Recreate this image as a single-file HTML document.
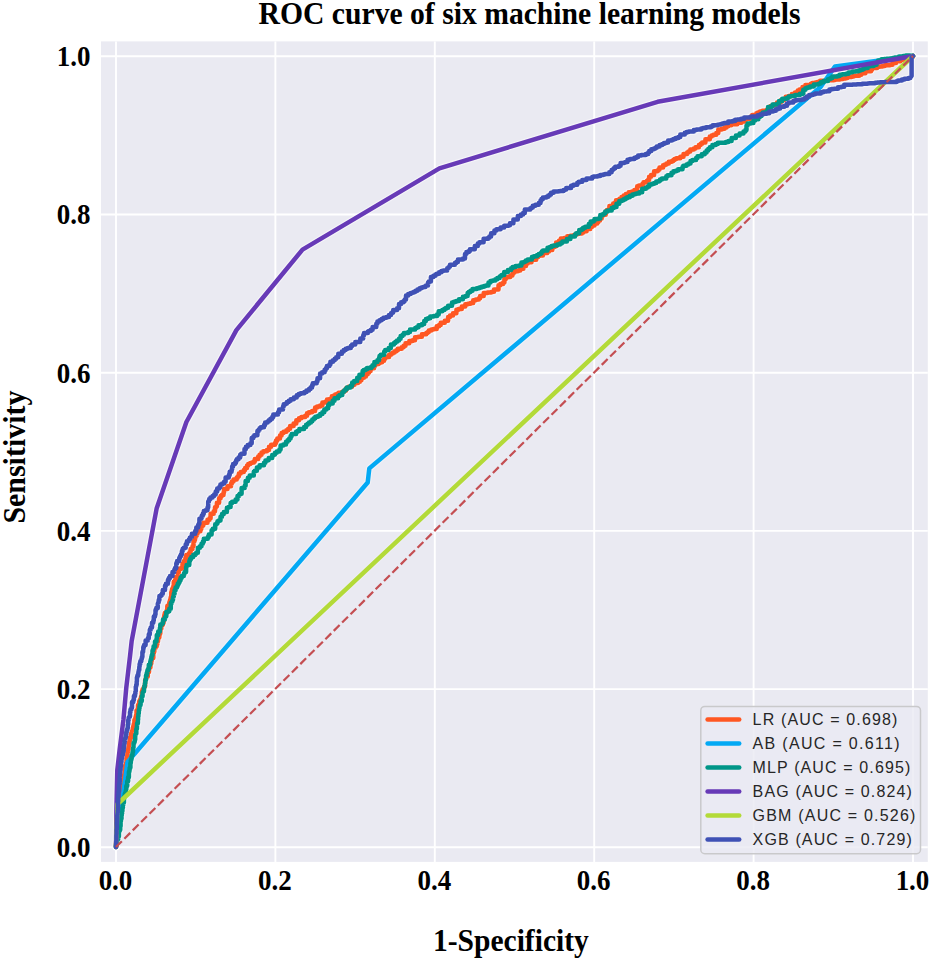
<!DOCTYPE html>
<html><head><meta charset="utf-8"><style>
html,body{margin:0;padding:0;background:#fff;}
body{width:931px;height:960px;overflow:hidden;}
svg{display:block;}
.serif{font-family:"Liberation Serif",serif;font-weight:bold;fill:#000;}
.sans{font-family:"Liberation Sans",sans-serif;fill:#262626;}
</style></head><body>
<svg width="931" height="960" viewBox="0 0 931 960">
<rect x="101" y="41.4" width="826.8" height="820.5" fill="#EAEAF2"/>
<g stroke="#fff" stroke-width="1.9"><line x1="116.0" y1="41.4" x2="116.0" y2="861.9"/><line x1="275.4" y1="41.4" x2="275.4" y2="861.9"/><line x1="434.8" y1="41.4" x2="434.8" y2="861.9"/><line x1="594.2" y1="41.4" x2="594.2" y2="861.9"/><line x1="753.6" y1="41.4" x2="753.6" y2="861.9"/><line x1="913.0" y1="41.4" x2="913.0" y2="861.9"/><line x1="101" y1="847.3" x2="927.8" y2="847.3"/><line x1="101" y1="689.1" x2="927.8" y2="689.1"/><line x1="101" y1="530.9" x2="927.8" y2="530.9"/><line x1="101" y1="372.7" x2="927.8" y2="372.7"/><line x1="101" y1="214.5" x2="927.8" y2="214.5"/><line x1="101" y1="56.3" x2="927.8" y2="56.3"/></g>
<g fill="none" stroke-width="4.5" stroke-linejoin="round" stroke-linecap="round">
<polyline points="116.0,847.0 116.1,847.0 116.1,845.7 116.1,842.4 116.5,842.4 116.8,842.4 116.8,839.4 116.9,839.4 116.9,837.7 116.9,835.5 117.2,835.5 117.4,835.5 117.4,833.3 117.4,830.5 117.6,830.5 117.6,827.4 118.0,827.4 118.1,827.4 118.1,826.2 118.2,826.2 118.2,825.2 118.2,822.0 118.5,822.0 119.0,822.0 119.0,817.8 119.3,817.8 119.3,815.4 119.5,815.4 119.5,813.5 119.5,811.0 119.8,811.0 119.8,809.8 120.0,809.8 120.0,808.0 120.2,808.0 120.5,808.0 120.5,805.4 120.5,802.6 120.8,802.6 120.8,800.7 121.1,800.7 121.3,800.7 121.3,798.8 121.5,798.8 121.5,797.0 121.5,794.7 121.8,794.7 121.8,792.5 122.1,792.5 122.4,792.5 122.4,789.8 122.6,789.8 122.6,788.1 122.6,785.6 122.9,785.6 123.2,785.6 123.2,783.5 123.4,783.5 123.4,782.1 123.4,780.1 123.6,780.1 123.6,777.5 124.0,777.5 124.0,775.0 124.3,775.0 124.6,775.0 124.6,772.9 124.6,770.7 124.9,770.7 124.9,768.3 125.3,768.3 125.3,765.0 125.8,765.0 126.2,765.0 126.2,762.6 126.5,762.6 126.5,760.4 126.5,758.1 126.8,758.1 126.8,757.0 127.0,757.0 127.4,757.0 127.4,754.5 127.4,752.6 127.8,752.6 127.8,749.9 128.3,749.9 128.5,749.9 128.5,748.6 128.5,746.7 128.8,746.7 128.8,743.8 129.3,743.8 129.3,741.8 129.7,741.8 129.7,740.0 130.0,740.0 130.0,737.4 130.6,737.4 131.1,737.4 131.1,735.4 131.1,733.4 131.5,733.4 131.9,733.4 131.9,731.6 132.2,731.6 132.2,730.8 132.8,730.8 132.8,728.0 133.3,728.0 133.3,726.0 133.8,726.0 133.8,723.9 134.4,723.9 134.4,721.8 134.4,720.0 134.8,720.0 135.4,720.0 135.4,717.6 136.0,717.6 136.0,715.3 136.5,715.3 136.5,713.0 136.5,710.6 137.1,710.6 137.4,710.6 137.4,709.4 138.0,709.4 138.0,707.0 138.0,705.0 138.5,705.0 139.2,705.0 139.2,702.7 139.2,701.3 139.6,701.3 140.1,701.3 140.1,699.6 141.0,699.6 141.0,696.7 141.5,696.7 141.5,695.0 141.8,695.0 141.8,693.9 141.8,691.7 142.5,691.7 142.5,689.4 143.1,689.4 143.6,689.4 143.6,687.8 144.0,687.8 144.0,686.4 145.1,686.4 145.1,682.6 145.1,680.0 145.8,680.0 145.8,678.8 146.2,678.8 146.2,676.4 147.0,676.4 147.8,676.4 147.8,674.0 147.8,671.9 148.5,671.9 149.0,671.9 149.0,670.6 149.0,667.5 150.0,667.5 150.4,667.5 150.4,665.9 150.4,663.6 151.0,663.6 151.3,663.6 151.3,662.6 151.3,661.1 151.7,661.1 151.7,657.9 152.5,657.9 153.3,657.9 153.3,655.0 153.3,653.0 153.9,653.0 153.9,651.8 154.3,651.8 154.3,647.6 155.6,647.6 156.0,647.6 156.0,646.3 156.7,646.3 156.7,643.9 157.4,643.9 157.4,641.3 158.0,641.3 158.0,639.2 158.0,637.5 158.5,637.5 159.3,637.5 159.3,635.1 159.8,635.1 159.8,633.4 160.3,633.4 160.3,632.0 160.3,628.8 161.3,628.8 161.3,625.5 162.3,625.5 162.3,624.5 162.6,624.5 163.0,624.5 163.0,623.1 163.5,623.1 163.5,621.3 163.9,621.3 163.9,619.5 163.9,617.3 164.3,617.3 164.3,615.0 164.8,615.0 164.8,613.1 165.6,613.1 166.8,613.1 166.8,610.1 167.3,610.1 167.3,608.8 167.3,605.9 168.2,605.9 168.6,605.9 168.6,604.7 169.3,604.7 169.3,602.2 170.0,602.2 170.0,600.0 170.7,600.0 170.7,597.2 171.3,597.2 171.3,595.0 171.3,592.0 172.0,592.0 172.0,589.2 172.7,589.2 172.7,588.1 173.0,588.1 173.5,588.1 173.5,586.0 173.5,585.0 173.8,585.0 173.8,581.8 175.1,581.8 175.1,579.7 175.9,579.7 175.9,577.1 177.0,577.1 177.6,577.1 177.6,575.4 178.1,575.4 178.1,574.2 178.1,572.5 178.8,572.5 178.8,569.1 180.5,569.1 181.0,569.1 181.0,568.0 182.5,568.0 182.5,565.1 182.5,563.8 183.1,563.8 183.8,563.8 183.8,562.5 183.8,561.2 184.5,561.2 185.4,561.2 185.4,559.8 185.4,558.1 186.3,558.1 186.3,555.0 188.1,555.0 188.8,555.0 188.8,553.8 189.6,553.8 189.6,552.2 190.6,552.2 190.6,550.1 190.6,548.9 191.2,548.9 192.5,548.9 192.5,546.3 193.5,546.3 193.5,543.8 193.5,541.7 194.3,541.7 194.3,540.0 195.0,540.0 195.0,536.5 196.4,536.5 196.4,535.3 196.9,535.3 196.9,533.8 197.5,533.8 197.5,531.3 199.0,531.3 200.4,531.3 200.4,528.9 201.3,528.9 201.3,527.5 201.3,526.7 202.1,526.7 202.1,525.5 203.3,525.5 203.3,522.8 206.0,522.8 207.5,522.8 207.5,521.3 207.5,519.8 208.5,519.8 209.6,519.8 209.6,518.2 210.6,518.2 210.6,516.6 210.6,513.8 212.5,513.8 213.7,513.8 213.7,511.3 215.0,511.3 215.0,508.8 215.0,507.3 215.8,507.3 216.3,507.3 216.3,506.3 216.9,506.3 216.9,505.3 216.9,502.8 218.2,502.8 219.1,502.8 219.1,501.2 219.1,498.3 220.6,498.3 220.6,496.0 221.8,496.0 221.8,495.1 222.2,495.1 223.5,495.1 223.5,492.5 224.0,492.5 224.0,491.4 224.0,489.1 225.2,489.1 227.5,489.1 227.5,487.2 227.5,486.3 228.7,486.3 231.0,486.3 231.0,484.5 231.0,483.4 231.9,483.4 231.9,481.4 233.5,481.4 233.5,479.6 235.0,479.6 236.7,479.6 236.7,477.6 238.0,477.6 238.0,476.3 238.9,476.3 238.9,475.4 238.9,473.6 240.7,473.6 240.7,471.9 242.4,471.9 243.8,471.9 243.8,470.0 245.1,470.0 245.1,468.1 247.0,468.1 247.0,465.6 248.2,465.6 248.2,463.9 250.3,463.9 250.3,463.0 251.9,463.0 251.9,462.4 253.9,462.4 253.9,461.6 254.8,461.6 254.8,460.5 254.8,459.1 255.9,459.1 258.2,459.1 258.2,456.4 259.6,456.4 259.6,454.7 261.5,454.7 261.5,453.6 261.5,452.5 263.3,452.5 263.3,451.3 265.4,451.3 266.9,451.3 266.9,450.1 269.0,450.1 269.0,448.4 269.0,446.7 271.1,446.7 271.1,444.8 273.1,444.8 275.0,444.8 275.0,442.9 276.0,442.9 276.0,442.0 276.0,440.5 277.3,440.5 277.3,438.4 279.2,438.4 280.0,438.4 280.0,437.5 280.0,435.5 281.6,435.5 281.6,433.1 283.5,433.1 283.5,431.7 284.6,431.7 286.4,431.7 286.4,430.2 288.2,430.2 288.2,428.7 290.1,428.7 290.1,427.1 290.1,426.0 291.5,426.0 293.6,426.0 293.6,424.2 293.6,423.6 294.3,423.6 296.3,423.6 296.3,422.0 296.3,420.3 298.3,420.3 299.0,420.3 299.0,419.8 299.0,418.3 301.4,418.3 301.4,416.9 303.4,416.9 305.2,416.9 305.2,415.7 307.0,415.7 307.0,414.5 307.0,413.3 308.9,413.3 308.9,412.2 310.4,412.2 312.1,412.2 312.1,411.1 315.1,411.1 315.1,409.0 315.1,407.6 317.1,407.6 317.1,406.6 318.4,406.6 320.1,406.6 320.1,405.4 322.4,405.4 322.4,403.8 322.4,402.6 324.3,402.6 325.4,402.6 325.4,401.8 327.0,401.8 327.0,400.8 327.0,399.6 328.8,399.6 329.6,399.6 329.6,399.1 331.8,399.1 331.8,397.6 331.8,396.2 333.9,396.2 333.9,395.5 335.2,395.5 335.2,394.5 337.3,394.5 337.3,393.8 338.6,393.8 338.6,392.7 340.8,392.7 342.2,392.7 342.2,391.8 344.2,391.8 344.2,390.4 346.1,390.4 346.1,389.2 346.1,388.2 347.6,388.2 347.6,387.8 348.4,387.8 348.4,386.8 350.5,386.8 352.1,386.8 352.1,385.9 352.1,384.7 354.5,384.7 354.5,383.0 356.5,383.0 358.0,383.0 358.0,381.8 359.9,381.8 359.9,380.3 361.4,380.3 361.4,379.0 361.4,377.8 362.5,377.8 363.9,377.8 363.9,376.4 365.9,376.4 365.9,374.3 367.7,374.3 367.7,372.4 369.2,372.4 369.2,370.9 370.6,370.9 370.6,369.7 370.6,368.2 372.3,368.2 374.0,368.2 374.0,366.7 374.0,365.7 375.3,365.7 375.3,364.0 377.2,364.0 378.7,364.0 378.7,363.0 379.9,363.0 379.9,362.2 382.1,362.2 382.1,360.7 384.1,360.7 384.1,359.4 384.1,358.5 385.4,358.5 385.4,357.1 387.5,357.1 389.1,357.1 389.1,356.1 389.1,354.8 391.0,354.8 391.0,353.6 392.8,353.6 392.8,352.4 394.6,352.4 394.6,351.2 396.4,351.2 396.4,350.3 397.8,350.3 397.8,348.7 399.8,348.7 401.7,348.7 401.7,347.2 403.6,347.2 403.6,345.7 405.5,345.7 405.5,344.5 405.5,343.2 407.7,343.2 409.3,343.2 409.3,342.2 409.3,340.9 411.6,340.9 412.6,340.9 412.6,340.2 415.0,340.2 415.0,338.8 415.0,337.3 418.1,337.3 418.1,336.7 419.2,336.7 421.9,336.7 421.9,335.4 421.9,334.2 424.2,334.2 426.3,334.2 426.3,333.1 427.6,333.1 427.6,332.5 427.6,331.9 428.8,331.9 428.8,330.6 431.3,330.6 431.3,329.6 433.4,329.6 433.4,328.9 434.5,328.9 436.7,328.9 436.7,327.6 436.7,326.2 439.1,326.2 439.1,324.9 440.7,324.9 440.7,322.8 443.3,322.8 444.8,322.8 444.8,321.6 444.8,320.7 445.8,320.7 448.1,320.7 448.1,318.7 448.1,317.0 450.0,317.0 450.0,315.5 451.8,315.5 453.0,315.5 453.0,314.5 453.0,313.2 454.4,313.2 456.4,313.2 456.4,311.5 456.4,309.7 458.5,309.7 458.5,308.9 459.5,308.9 461.8,308.9 461.8,307.4 461.8,306.4 463.2,306.4 465.3,306.4 465.3,305.1 465.3,304.3 466.4,304.3 467.9,304.3 467.9,303.8 470.5,303.8 470.5,302.9 473.2,302.9 473.2,302.0 473.2,300.3 475.8,300.3 475.8,299.4 477.2,299.4 478.9,299.4 478.9,298.3 480.1,298.3 480.1,297.5 480.1,296.1 481.8,296.1 483.7,296.1 483.7,294.6 483.7,292.9 485.9,292.9 487.5,292.9 487.5,292.6 491.2,292.6 491.2,292.0 492.7,292.0 492.7,291.7 494.0,291.7 494.0,290.7 494.0,289.5 495.5,289.5 498.5,289.5 498.5,287.1 498.5,285.3 500.3,285.3 500.3,284.1 501.5,284.1 503.1,284.1 503.1,282.5 504.4,282.5 504.4,280.8 504.4,279.0 505.8,279.0 505.8,278.0 506.5,278.0 506.5,277.0 507.9,277.0 510.3,277.0 510.3,275.5 512.4,275.5 512.4,274.0 512.4,273.4 513.4,273.4 513.4,272.6 514.5,272.6 514.5,271.3 516.6,271.3 518.0,271.3 518.0,270.4 520.3,270.4 520.3,268.8 523.4,268.8 523.4,266.6 524.4,266.6 524.4,265.9 526.0,265.9 526.0,264.8 526.0,263.6 527.7,263.6 527.7,262.3 529.7,262.3 531.5,262.3 531.5,261.0 531.5,259.8 533.5,259.8 536.2,259.8 536.2,258.1 536.2,256.9 538.2,256.9 538.2,256.1 539.4,256.1 539.4,255.6 540.3,255.6 542.9,255.6 542.9,254.0 542.9,253.1 545.0,253.1 547.3,253.1 547.3,252.2 547.3,251.5 549.0,251.5 549.0,250.0 550.6,250.0 552.3,250.0 552.3,248.5 552.3,247.0 554.0,247.0 554.6,247.0 554.6,246.3 556.1,246.3 556.1,244.4 556.1,242.6 557.6,242.6 559.0,242.6 559.0,240.8 560.8,240.8 560.8,240.0 560.8,238.5 564.1,238.5 564.1,238.1 565.1,238.1 567.3,238.1 567.3,237.1 567.3,236.2 569.2,236.2 570.4,236.2 570.4,235.7 573.9,235.7 573.9,235.0 575.2,235.0 575.2,234.7 575.2,234.5 576.4,234.5 576.4,234.1 578.6,234.1 578.6,233.4 581.9,233.4 581.9,232.4 583.4,232.4 583.4,231.3 585.2,231.3 586.6,231.3 586.6,230.4 586.6,229.1 588.7,229.1 590.3,229.1 590.3,228.1 590.3,227.1 591.9,227.1 591.9,225.4 594.5,225.4 594.5,223.6 596.0,223.6 597.3,223.6 597.3,221.9 598.4,221.9 598.4,220.5 600.0,220.5 600.0,218.6 601.7,218.6 601.7,216.9 601.7,216.0 602.6,216.0 602.6,214.7 603.9,214.7 605.7,214.7 605.7,212.9 605.7,211.5 606.9,211.5 606.9,209.9 608.2,209.9 609.4,209.9 609.4,208.4 609.4,206.0 611.5,206.0 613.2,206.0 613.2,204.8 613.2,203.5 615.0,203.5 615.0,202.8 616.0,202.8 616.0,200.3 619.5,200.3 619.5,198.8 621.5,198.8 621.5,197.1 623.7,197.1 623.7,195.5 625.9,195.5 625.9,194.0 627.9,194.0 627.9,193.4 628.7,193.4 628.7,192.2 630.7,192.2 632.0,192.2 632.0,191.4 634.4,191.4 634.4,189.9 637.2,189.9 637.2,187.7 637.2,186.2 639.0,186.2 639.0,185.4 640.1,185.4 642.5,185.4 642.5,183.8 643.5,183.8 643.5,183.1 643.5,182.2 644.9,182.2 647.0,182.2 647.0,180.8 647.9,180.8 647.9,179.9 649.1,179.9 649.1,178.7 649.1,176.7 651.0,176.7 651.0,175.0 652.7,175.0 654.1,175.0 654.1,173.9 654.1,171.2 657.5,171.2 657.5,170.4 658.5,170.4 658.5,169.4 659.5,169.4 659.5,167.4 661.6,167.4 663.1,167.4 663.1,165.9 663.1,165.2 664.9,165.2 664.9,164.5 666.5,164.5 666.5,163.6 668.8,163.6 668.8,161.7 671.9,161.7 671.9,160.9 673.3,160.9 673.3,160.1 674.5,160.1 674.5,159.1 676.2,159.1 676.2,158.2 677.8,158.2 680.3,158.2 680.3,156.7 683.5,156.7 683.5,155.0 683.5,153.9 685.7,153.9 687.1,153.9 687.1,153.2 687.1,152.5 688.4,152.5 688.4,151.5 690.3,151.5 690.3,149.6 693.8,149.6 693.8,148.4 695.5,148.4 695.5,147.3 697.3,147.3 698.9,147.3 698.9,146.1 698.9,145.0 700.6,145.0 700.6,143.8 702.1,143.8 702.1,142.6 703.5,142.6 705.4,142.6 705.4,141.0 705.4,139.3 707.5,139.3 709.8,139.3 709.8,137.8 709.8,136.5 711.6,136.5 711.6,135.5 713.2,135.5 713.2,134.7 714.4,134.7 716.3,134.7 716.3,133.0 718.3,133.0 718.3,131.2 718.3,129.6 720.1,129.6 721.8,129.6 721.8,128.7 724.5,128.7 724.5,127.4 726.5,127.4 726.5,126.3 728.2,126.3 728.2,125.5 728.2,125.2 729.4,125.2 731.2,125.2 731.2,124.8 731.2,124.2 733.2,124.2 737.3,124.2 737.3,123.2 737.3,122.7 739.1,122.7 741.5,122.7 741.5,122.1 741.5,121.5 743.7,121.5 745.4,121.5 745.4,121.0 745.4,118.8 748.1,118.8 750.3,118.8 750.3,117.0 751.2,117.0 751.2,116.3 752.2,116.3 752.2,115.5 752.2,114.9 753.8,114.9 756.4,114.9 756.4,113.9 756.4,113.3 757.9,113.3 757.9,112.5 760.0,112.5 760.0,111.6 762.4,111.6 762.4,110.7 764.7,110.7 766.5,110.7 766.5,110.0 768.7,110.0 768.7,108.7 768.7,107.6 770.5,107.6 770.5,106.1 772.9,106.1 772.9,105.4 774.0,105.4 774.0,104.5 775.5,104.5 777.0,104.5 777.0,103.6 777.0,102.6 778.6,102.6 780.8,102.6 780.8,101.1 780.8,100.2 782.2,100.2 784.0,100.2 784.0,99.0 785.7,99.0 785.7,98.1 785.7,96.7 788.6,96.7 788.6,96.0 789.9,96.0 791.9,96.0 791.9,95.0 791.9,94.0 793.1,94.0 795.0,94.0 795.0,92.5 797.7,92.5 797.7,91.2 797.7,90.5 799.4,90.5 799.4,89.5 801.4,89.5 802.5,89.5 802.5,88.3 802.5,87.0 803.6,87.0 805.4,87.0 805.4,86.2 805.4,85.0 808.1,85.0 810.9,85.0 810.9,83.8 812.2,83.8 812.2,83.2 812.2,82.9 813.3,82.9 815.3,82.9 815.3,82.4 817.3,82.4 817.3,81.9 820.1,81.9 820.1,81.3 820.1,80.8 822.0,80.8 822.0,80.7 824.2,80.7 826.1,80.7 826.1,80.6 826.1,80.5 828.7,80.5 828.7,80.3 831.6,80.3 831.6,80.2 834.0,80.2 834.0,80.0 835.1,80.0 835.1,79.6 837.1,79.6 840.0,79.6 840.0,79.0 842.9,79.0 842.9,78.4 845.6,78.4 845.6,77.9 847.4,77.9 847.4,77.5 847.4,77.1 849.3,77.1 851.6,77.1 851.6,76.6 853.6,76.6 853.6,76.2 853.6,75.8 855.8,75.8 859.2,75.8 859.2,74.7 861.3,74.7 861.3,74.1 861.3,73.8 862.2,73.8 862.2,73.3 863.6,73.3 865.4,73.3 865.4,72.6 865.4,71.3 868.7,71.3 871.0,71.3 871.0,69.8 872.0,69.8 872.0,69.2 872.0,68.0 873.8,68.0 877.1,68.0 877.1,67.1 877.1,66.8 878.3,66.8 880.0,66.8 880.0,66.5 882.5,66.5 882.5,66.0 884.8,66.0 884.8,65.5 884.8,65.2 886.7,65.2 890.0,65.2 890.0,64.8 892.5,64.8 892.5,63.7 892.5,63.1 893.9,63.1 896.0,63.1 896.0,62.2 896.0,61.3 898.4,61.3 900.5,61.3 900.5,60.6 900.5,59.7 903.1,59.7 903.1,59.0 905.1,59.0 905.1,58.2 907.1,58.2 907.1,57.4 909.2,57.4 909.2,56.7 911.3,56.7 913.0,56.7 913.0,56.0" stroke="#fff" opacity="0.4" stroke-width="6.9"/><polyline points="116.0,847.0 127.5,762.0 367.7,482.5 369.3,468.4 820.6,87.0 835.1,66.4 913.0,56.0" stroke="#fff" opacity="0.32" stroke-width="6.9"/><polyline points="116.0,847.0 116.0,844.0 116.7,844.0 116.7,841.0 117.3,841.0 117.3,840.1 117.5,840.1 117.7,840.1 117.7,839.1 118.3,839.1 118.3,836.4 118.9,836.4 118.9,833.9 118.9,831.5 119.4,831.5 119.4,830.0 119.7,830.0 120.2,830.0 120.2,826.3 120.6,826.3 120.6,823.7 120.6,821.5 120.9,821.5 120.9,819.7 121.2,819.7 121.2,818.7 121.3,818.7 121.5,818.7 121.5,817.6 121.5,815.3 121.8,815.3 121.8,813.4 122.1,813.4 122.1,811.3 122.4,811.3 122.4,807.8 122.9,807.8 122.9,805.3 123.2,805.3 123.2,802.7 123.6,802.7 123.9,802.7 123.9,801.0 123.9,800.0 124.0,800.0 124.0,797.1 124.5,797.1 124.5,796.1 124.8,796.1 124.8,793.7 125.2,793.7 125.6,793.7 125.6,791.3 126.0,791.3 126.0,789.6 126.3,789.6 126.3,787.7 126.3,785.9 126.7,785.9 127.2,785.9 127.2,783.1 127.2,781.2 127.6,781.2 128.1,781.2 128.1,778.7 128.1,777.2 128.3,777.2 128.9,777.2 128.9,774.5 128.9,771.8 129.4,771.8 129.4,770.0 129.7,770.0 129.7,767.8 130.0,767.8 130.4,767.8 130.4,765.6 130.4,763.0 130.8,763.0 130.8,760.6 131.2,760.6 131.2,758.9 131.4,758.9 131.6,758.9 131.6,757.5 131.6,755.3 132.0,755.3 132.5,755.3 132.5,752.0 133.0,752.0 133.0,749.4 133.0,747.8 133.2,747.8 133.5,747.8 133.5,746.3 133.5,743.1 134.1,743.1 134.3,743.1 134.3,741.9 134.7,741.9 134.7,739.7 135.2,739.7 135.2,736.5 135.2,735.0 135.5,735.0 135.7,735.0 135.7,733.8 136.3,733.8 136.3,730.1 136.3,729.1 136.4,729.1 136.9,729.1 136.9,726.0 137.1,726.0 137.1,725.0 137.1,723.3 137.4,723.3 137.9,723.3 137.9,720.0 138.1,720.0 138.1,718.8 138.1,716.5 138.4,716.5 138.4,713.4 138.8,713.4 138.8,709.9 139.3,709.9 139.3,708.4 139.5,708.4 139.5,706.2 139.8,706.2 139.8,705.0 140.0,705.0 140.6,705.0 140.6,702.7 140.6,701.0 141.0,701.0 141.8,701.0 141.8,698.2 141.8,696.3 142.3,696.3 142.6,696.3 142.6,695.0 142.6,692.6 143.1,692.6 143.3,692.6 143.3,691.2 144.0,691.2 144.0,687.5 144.4,687.5 144.4,685.8 144.9,685.8 144.9,683.2 145.3,683.2 145.3,681.0 145.3,680.0 145.5,680.0 146.0,680.0 146.0,678.3 146.0,675.6 146.7,675.6 146.7,673.0 147.4,673.0 147.4,670.3 148.1,670.3 148.1,669.1 148.4,669.1 148.8,669.1 148.8,667.5 148.8,664.8 149.4,664.8 150.2,664.8 150.2,661.7 150.5,661.7 150.5,660.5 150.8,660.5 150.8,659.2 151.4,659.2 151.4,656.6 151.8,656.6 151.8,655.0 152.5,655.0 152.5,652.7 152.5,650.6 153.1,650.6 153.1,648.9 153.6,648.9 153.6,646.3 154.3,646.3 155.0,646.3 155.0,644.0 155.0,641.4 155.7,641.4 156.5,641.4 156.5,638.7 156.8,638.7 156.8,637.5 156.8,635.0 157.7,635.0 158.2,635.0 158.2,633.4 158.2,631.6 158.9,631.6 159.9,631.6 159.9,628.8 159.9,627.7 160.3,627.7 160.3,624.6 161.6,624.6 162.2,624.6 162.2,623.3 163.0,623.3 163.0,621.3 163.0,619.5 163.9,619.5 164.9,619.5 164.9,617.6 165.5,617.6 165.5,616.3 166.3,616.3 166.3,614.8 166.3,612.0 167.7,612.0 168.1,612.0 168.1,611.2 169.3,611.2 169.3,608.8 170.8,608.8 170.8,605.3 170.8,602.9 171.8,602.9 171.8,601.5 172.4,601.5 172.4,600.0 173.0,600.0 173.0,597.3 173.3,597.3 173.3,596.4 173.5,596.4 173.8,596.4 173.8,593.8 174.6,593.8 174.6,592.1 174.6,590.2 175.6,590.2 175.6,587.4 177.0,587.4 177.0,585.9 177.7,585.9 177.7,583.8 178.8,583.8 178.8,581.9 179.7,581.9 179.7,580.3 180.6,580.3 180.6,577.8 181.8,577.8 181.8,576.1 182.7,576.1 183.8,576.1 183.8,573.8 184.6,573.8 184.6,571.9 186.1,571.9 186.1,568.3 186.1,567.0 186.6,567.0 186.6,565.0 187.5,565.0 189.3,565.0 189.3,562.1 189.3,560.7 190.1,560.7 190.1,558.8 191.3,558.8 191.3,556.9 193.2,556.9 193.2,554.9 195.2,554.9 195.2,553.8 196.3,553.8 196.3,552.7 196.8,552.7 197.9,552.7 197.9,550.5 197.9,547.8 199.3,547.8 200.0,547.8 200.0,546.3 201.5,546.3 201.5,543.8 202.8,543.8 202.8,541.7 203.8,541.7 203.8,540.0 203.8,538.7 205.5,538.7 207.8,538.7 207.8,537.0 208.8,537.0 208.8,536.3 208.8,534.4 210.1,534.4 211.6,534.4 211.6,532.1 211.6,530.3 212.8,530.3 212.8,528.8 213.8,528.8 215.2,528.8 215.2,526.6 215.2,524.3 216.8,524.3 216.8,523.2 217.5,523.2 217.5,521.3 218.8,521.3 218.8,520.6 219.3,520.6 220.5,520.6 220.5,518.9 220.5,516.7 222.0,516.7 222.0,514.1 223.8,514.1 223.8,512.0 225.2,512.0 226.9,512.0 226.9,509.8 226.9,507.7 228.5,507.7 228.5,506.9 229.1,506.9 230.6,506.9 230.6,504.8 230.6,502.9 232.1,502.9 232.1,501.7 233.3,501.7 235.6,501.7 235.6,499.4 237.5,499.4 237.5,497.5 237.5,496.0 239.0,496.0 239.0,494.8 239.7,494.8 239.7,493.8 240.3,493.8 241.6,493.8 241.6,491.4 241.6,488.0 243.6,488.0 244.7,488.0 244.7,485.8 245.6,485.8 245.6,483.8 245.6,481.1 247.0,481.1 247.9,481.1 247.9,480.0 247.9,477.8 249.7,477.8 249.7,475.4 251.6,475.4 253.8,475.4 253.8,472.8 253.8,471.8 254.7,471.8 254.7,470.8 255.6,470.8 256.9,470.8 256.9,469.2 256.9,467.5 258.4,467.5 259.6,467.5 259.6,466.2 259.6,465.2 261.3,465.2 264.0,465.2 264.0,463.6 264.0,462.7 265.4,462.7 265.4,460.6 267.9,460.6 267.9,460.0 268.7,460.0 268.7,458.1 270.9,458.1 272.2,458.1 272.2,457.0 272.2,455.1 274.3,455.1 274.3,454.4 275.0,454.4 275.0,452.8 276.7,452.8 276.7,451.6 278.0,451.6 279.4,451.6 279.4,449.6 280.6,449.6 280.6,447.9 280.6,445.5 282.3,445.5 283.3,445.5 283.3,444.5 286.0,444.5 286.0,441.8 287.6,441.8 287.6,440.2 289.2,440.2 289.2,438.6 290.6,438.6 290.6,437.2 290.6,436.1 291.7,436.1 291.7,433.9 293.9,433.9 296.1,433.9 296.1,431.7 297.5,431.7 297.5,430.9 299.3,430.9 299.3,429.9 299.3,428.9 300.9,428.9 304.1,428.9 304.1,427.1 306.1,427.1 306.1,425.8 306.1,424.7 307.7,424.7 307.7,423.8 309.0,423.8 309.0,422.5 311.0,422.5 311.0,421.2 312.3,421.2 312.3,419.6 313.9,419.6 313.9,418.2 315.3,418.2 315.3,416.8 316.7,416.8 318.1,416.8 318.1,415.7 320.2,415.7 320.2,414.0 322.4,414.0 322.4,412.2 324.3,412.2 324.3,410.4 324.3,409.4 325.3,409.4 326.4,409.4 326.4,408.2 328.2,408.2 328.2,406.5 328.2,405.0 329.4,405.0 329.4,403.5 330.6,403.5 332.7,403.5 332.7,400.8 334.5,400.8 334.5,399.3 334.5,398.3 335.7,398.3 338.1,398.3 338.1,396.3 339.6,396.3 339.6,395.0 342.3,395.0 342.3,392.3 343.2,392.3 343.2,391.4 344.2,391.4 344.2,390.4 345.4,390.4 345.4,389.3 346.8,389.3 346.8,388.3 346.8,387.4 348.2,387.4 350.6,387.4 350.6,385.8 352.2,385.8 352.2,384.7 352.2,382.4 354.1,382.4 354.1,380.9 355.4,380.9 357.2,380.9 357.2,378.7 357.2,377.8 358.0,377.8 359.4,377.8 359.4,376.1 359.4,374.8 360.6,374.8 362.6,374.8 362.6,372.3 362.6,371.0 363.7,371.0 363.7,370.1 365.4,370.1 365.4,369.3 367.0,369.3 367.0,368.0 369.2,368.0 371.2,368.0 371.2,366.8 372.5,366.8 372.5,366.0 372.5,365.2 373.8,365.2 374.4,365.2 374.4,364.4 374.4,362.0 376.0,362.0 377.4,362.0 377.4,360.2 379.0,360.2 379.0,357.9 379.5,357.9 379.5,357.1 379.5,355.9 380.7,355.9 380.7,354.8 381.8,354.8 384.2,354.8 384.2,352.4 384.2,351.4 385.2,351.4 385.2,350.0 386.6,350.0 388.7,350.0 388.7,347.9 390.9,347.9 390.9,345.7 390.9,344.5 392.1,344.5 394.0,344.5 394.0,342.9 395.4,342.9 395.4,341.8 397.0,341.8 397.0,340.4 399.0,340.4 399.0,338.8 400.6,338.8 400.6,337.5 400.6,335.9 402.5,335.9 402.5,334.7 403.9,334.7 403.9,333.1 405.9,333.1 408.2,333.1 408.2,331.9 410.0,331.9 410.0,331.0 410.0,329.6 412.7,329.6 415.2,329.6 415.2,328.1 416.6,328.1 416.6,327.3 418.5,327.3 418.5,326.2 418.5,325.3 419.9,325.3 422.0,325.3 422.0,324.0 424.2,324.0 424.2,322.7 424.2,321.0 425.9,321.0 425.9,319.0 427.9,319.0 427.9,318.2 428.8,318.2 430.2,318.2 430.2,317.7 430.2,316.6 433.6,316.6 433.6,315.9 435.7,315.9 437.1,315.9 437.1,314.5 438.7,314.5 438.7,312.9 438.7,311.3 440.3,311.3 442.3,311.3 442.3,310.1 444.4,310.1 444.4,308.8 446.0,308.8 446.0,307.8 448.1,307.8 448.1,306.7 448.1,305.7 450.0,305.7 452.0,305.7 452.0,304.1 452.0,302.6 453.9,302.6 453.9,301.7 455.1,301.7 456.1,301.7 456.1,300.9 459.0,300.9 459.0,299.9 459.0,299.2 461.1,299.2 462.9,299.2 462.9,298.6 462.9,296.8 464.8,296.8 465.6,296.8 465.6,295.9 467.6,295.9 467.6,294.0 467.6,292.9 468.7,292.9 468.7,291.9 470.4,291.9 470.4,290.7 472.5,290.7 472.5,289.0 475.4,289.0 476.7,289.0 476.7,288.3 479.2,288.3 479.2,287.5 481.4,287.5 481.4,286.8 484.0,286.8 484.0,286.0 485.9,286.0 485.9,285.4 488.5,285.4 488.5,283.7 488.5,282.5 490.4,282.5 490.4,281.0 492.6,281.0 492.6,280.4 493.7,280.4 495.4,280.4 495.4,279.2 497.3,279.2 497.3,278.0 499.7,278.0 499.7,276.4 501.0,276.4 501.0,275.5 501.7,275.5 501.7,275.1 504.2,275.1 504.2,273.4 504.2,271.9 506.4,271.9 507.9,271.9 507.9,271.0 507.9,269.9 509.5,269.9 511.1,269.9 511.1,268.8 511.1,268.2 512.6,268.2 512.6,266.9 515.6,266.9 515.6,265.9 517.8,265.9 519.1,265.9 519.1,265.4 521.4,265.4 521.4,264.0 521.4,262.5 523.8,262.5 523.8,261.9 524.8,261.9 524.8,261.5 525.8,261.5 525.8,260.6 527.7,260.6 527.7,259.6 530.0,259.6 531.9,259.6 531.9,258.2 531.9,256.9 533.8,256.9 533.8,256.3 534.9,256.3 537.1,256.3 537.1,254.9 538.8,254.9 538.8,254.0 540.6,254.0 540.6,252.9 541.8,252.9 541.8,252.2 541.8,251.5 543.0,251.5 543.0,250.4 545.0,250.4 547.5,250.4 547.5,248.9 547.5,247.7 549.8,247.7 549.8,246.9 551.5,246.9 551.5,245.9 553.4,245.9 553.4,245.4 554.4,245.4 557.2,245.4 557.2,244.4 560.0,244.4 560.0,243.4 561.5,243.4 561.5,242.8 562.4,242.8 562.4,242.5 562.4,241.4 564.5,241.4 566.9,241.4 566.9,240.3 566.9,239.1 569.3,239.1 570.4,239.1 570.4,238.4 570.4,236.6 573.0,236.6 575.0,236.6 575.0,235.3 575.0,234.5 576.2,234.5 576.2,233.3 577.7,233.3 579.2,233.3 579.2,232.1 579.2,229.9 581.9,229.9 581.9,229.1 583.1,229.1 583.1,227.7 585.2,227.7 585.2,226.7 586.9,226.7 588.8,226.7 588.8,225.4 588.8,224.0 590.6,224.0 590.6,221.5 593.6,221.5 593.6,220.8 594.5,220.8 594.5,219.1 597.3,219.1 598.3,219.1 598.3,218.5 600.3,218.5 600.3,217.3 600.3,215.0 603.1,215.0 603.1,214.0 604.3,214.0 604.3,213.2 605.2,213.2 605.2,211.6 607.5,211.6 607.5,210.6 608.9,210.6 611.7,210.6 611.7,208.6 611.7,208.0 612.5,208.0 613.8,208.0 613.8,207.1 616.5,207.1 616.5,204.8 616.5,203.8 617.7,203.8 619.3,203.8 619.3,202.4 619.3,201.1 620.8,201.1 621.8,201.1 621.8,200.3 623.6,200.3 623.6,199.2 625.5,199.2 625.5,198.2 627.1,198.2 627.1,197.3 629.8,197.3 629.8,195.7 632.5,195.7 632.5,194.9 632.5,194.4 634.4,194.4 634.4,193.9 636.2,193.9 636.2,193.4 637.8,193.4 639.3,193.4 639.3,192.2 642.2,192.2 642.2,189.9 642.2,188.8 643.6,188.8 645.9,188.8 645.9,187.4 647.7,187.4 647.7,186.4 649.3,186.4 649.3,185.4 649.3,184.5 652.0,184.5 652.0,183.8 654.2,183.8 654.2,183.1 656.2,183.1 656.2,181.4 659.0,181.4 659.0,180.7 660.0,180.7 660.0,179.6 661.9,179.6 661.9,178.4 664.0,178.4 666.3,178.4 666.3,177.0 666.3,176.2 667.6,176.2 667.6,175.2 669.3,175.2 671.5,175.2 671.5,173.9 671.5,172.7 673.4,172.7 673.4,171.3 676.2,171.3 676.2,170.4 678.1,170.4 678.1,169.3 680.3,169.3 682.5,169.3 682.5,167.6 682.5,167.0 683.3,167.0 683.3,165.8 684.9,165.8 686.5,165.8 686.5,164.6 688.4,164.6 688.4,163.5 690.5,163.5 690.5,162.2 690.5,161.0 692.5,161.0 692.5,160.1 693.9,160.1 696.1,160.1 696.1,158.8 696.1,157.9 697.5,157.9 697.5,156.3 699.7,156.3 701.7,156.3 701.7,155.0 701.7,154.2 702.9,154.2 704.7,154.2 704.7,152.4 706.6,152.4 706.6,150.5 708.2,150.5 708.2,148.9 709.8,148.9 709.8,147.3 712.4,147.3 712.4,145.8 712.4,145.0 713.8,145.0 715.7,145.0 715.7,143.9 717.8,143.9 717.8,142.7 720.0,142.7 720.0,142.7 721.7,142.7 721.7,142.7 724.7,142.7 724.7,142.7 725.8,142.7 725.8,142.1 728.4,142.1 728.4,140.9 731.6,140.9 731.6,139.3 731.6,138.1 733.7,138.1 735.9,138.1 735.9,136.8 735.9,135.6 738.0,135.6 739.6,135.6 739.6,134.7 739.6,133.6 741.0,133.6 743.5,133.6 743.5,131.6 745.4,131.6 745.4,130.1 746.5,130.1 746.5,127.9 746.5,125.5 747.6,125.5 747.6,123.6 750.8,123.6 750.8,122.9 752.0,122.9 753.4,122.9 753.4,122.1 753.4,120.4 755.1,120.4 755.1,119.3 756.2,119.3 758.4,119.3 758.4,117.0 759.9,117.0 759.9,115.9 761.5,115.9 761.5,114.8 761.5,113.8 762.9,113.8 762.9,112.4 764.8,112.4 766.6,112.4 766.6,111.1 768.0,111.1 768.0,110.0 768.0,107.0 770.7,107.0 771.5,107.0 771.5,106.0 772.6,106.0 772.6,104.8 772.6,104.4 774.7,104.4 778.0,104.4 778.0,103.7 778.0,103.5 779.0,103.5 779.0,101.0 781.0,101.0 782.2,101.0 782.2,99.6 782.2,98.7 784.6,98.7 787.1,98.7 787.1,97.7 788.7,97.7 788.7,97.1 788.7,96.4 790.9,96.4 790.9,96.1 792.0,96.1 795.1,96.1 795.1,95.1 796.2,95.1 796.2,94.9 799.9,94.9 799.9,94.1 799.9,93.8 801.5,93.8 803.3,93.8 803.3,91.4 803.3,89.8 804.5,89.8 805.4,89.8 805.4,88.7 805.4,88.2 807.1,88.2 807.1,87.4 810.0,87.4 810.0,86.6 812.2,86.6 813.8,86.6 813.8,86.0 813.8,84.6 818.1,84.6 818.1,84.1 819.3,84.1 819.3,83.6 820.8,83.6 820.8,82.3 823.5,82.3 823.5,81.0 826.1,81.0 828.0,81.0 828.0,80.0 828.0,79.3 829.4,79.3 829.4,78.7 830.9,78.7 830.9,78.1 832.3,78.1 832.3,76.4 836.4,76.4 837.4,76.4 837.4,76.1 839.6,76.1 839.6,75.5 839.6,74.8 842.3,74.8 842.3,74.3 844.4,74.3 846.1,74.3 846.1,73.8 848.5,73.8 848.5,73.2 848.5,72.5 851.0,72.5 851.0,72.2 852.4,72.2 852.4,71.6 854.8,71.6 855.8,71.6 855.8,71.3 858.5,71.3 858.5,70.4 860.4,70.4 860.4,69.7 862.8,69.7 862.8,68.9 864.0,68.9 864.0,68.5 864.0,68.0 865.4,68.0 867.8,68.0 867.8,67.2 867.8,66.8 869.1,66.8 869.1,65.9 871.7,65.9 873.7,65.9 873.7,65.3 873.7,64.8 875.1,64.8 876.6,64.8 876.6,63.6 876.6,62.4 878.1,62.4 878.1,60.6 880.4,60.6 881.5,60.6 881.5,59.7 881.5,59.3 884.2,59.3 884.2,58.9 886.6,58.9 886.6,58.7 887.7,58.7 890.0,58.7 890.0,58.4 892.8,58.4 892.8,57.9 894.7,57.9 894.7,57.6 897.3,57.6 897.3,57.2 899.0,57.2 899.0,56.9 899.0,56.5 900.8,56.5 903.1,56.5 903.1,56.0 905.8,56.0 905.8,55.5 905.8,55.6 906.9,55.6 910.0,55.6 910.0,55.8 913.0,55.8 913.0,56.0" stroke="#fff" opacity="0.42" stroke-width="6.9"/><polyline points="116.0,847.0 116.4,810.0 117.3,770.0 119.6,750.0 123.4,720.0 126.3,687.5 130.0,656.3 131.7,640.8 156.7,508.2 186.4,422.0 236.4,330.1 302.5,249.6 439.4,168.4 657.6,101.8 913.0,56.0" stroke="#fff" opacity="0.5" stroke-width="6.9"/><polyline points="116.0,847.0 117.6,804.0 913.0,56.0" stroke="#fff" opacity="0.15" stroke-width="6.9"/><polyline points="116.0,847.0 116.0,845.3 116.1,845.3 116.2,845.3 116.2,842.8 116.2,840.7 116.3,840.7 116.4,840.7 116.4,838.0 116.4,835.2 116.5,835.2 116.5,834.0 116.6,834.0 116.6,833.0 116.6,833.0 116.6,829.6 116.8,829.6 116.8,827.9 116.8,827.9 116.9,827.9 116.9,826.2 116.9,822.3 117.1,822.3 117.1,820.0 117.2,820.0 117.2,818.5 117.3,818.5 117.3,818.5 117.3,817.6 117.3,814.7 117.5,814.7 117.5,812.8 117.6,812.8 117.7,812.8 117.7,810.2 117.9,810.2 117.9,807.3 118.0,807.3 118.0,804.8 118.0,801.8 118.2,801.8 118.2,801.8 118.2,800.0 118.2,797.8 118.4,797.8 118.4,796.4 118.5,796.4 118.5,794.5 118.6,794.5 118.6,792.8 118.7,792.8 118.7,791.3 118.8,791.3 119.0,791.3 119.0,789.2 119.0,787.1 119.1,787.1 119.1,784.3 119.3,784.3 119.5,784.3 119.5,782.0 119.7,782.0 119.7,779.1 119.7,776.4 119.9,776.4 119.9,773.4 120.1,773.4 120.2,773.4 120.2,771.1 120.2,770.0 120.3,770.0 120.6,770.0 120.6,768.0 120.6,766.6 120.8,766.6 121.0,766.6 121.0,764.9 121.0,761.9 121.5,761.9 121.5,758.6 122.0,758.6 122.0,757.6 122.1,757.6 122.1,755.0 122.5,755.0 122.9,755.0 122.9,752.8 122.9,751.3 123.2,751.3 123.7,751.3 123.7,748.1 124.0,748.1 124.0,746.8 124.0,745.0 124.3,745.0 124.3,743.6 124.6,743.6 124.6,740.9 125.1,740.9 125.1,738.2 125.7,738.2 125.7,736.7 126.0,736.7 126.0,735.0 126.3,735.0 126.3,732.0 126.8,732.0 126.8,730.1 127.1,730.1 127.4,730.1 127.4,728.3 127.8,728.3 127.8,725.9 127.8,724.5 128.0,724.5 128.2,724.5 128.2,723.0 128.2,720.0 128.7,720.0 128.7,717.5 129.2,717.5 129.5,717.5 129.5,716.5 130.0,716.5 130.0,714.1 130.0,712.0 130.5,712.0 130.5,709.4 131.0,709.4 131.4,709.4 131.4,707.7 132.0,707.7 132.0,705.0 132.0,702.1 132.8,702.1 133.3,702.1 133.3,700.1 133.9,700.1 133.9,698.0 133.9,696.0 134.4,696.0 135.0,696.0 135.0,693.8 135.4,693.8 135.4,691.2 135.8,691.2 135.8,688.2 135.8,686.4 136.0,686.4 136.2,686.4 136.2,684.8 136.7,684.8 136.7,681.6 136.9,681.6 136.9,680.0 136.9,677.3 137.4,677.3 137.4,675.5 137.8,675.5 138.3,675.5 138.3,672.7 138.5,672.7 138.5,671.6 138.8,671.6 138.8,670.0 139.3,670.0 139.3,668.0 139.3,666.7 139.6,666.7 139.6,664.0 140.3,664.0 140.3,661.2 141.0,661.2 141.3,661.2 141.3,660.0 141.5,660.0 141.5,658.7 141.9,658.7 141.9,656.9 142.4,656.9 142.4,653.7 142.4,651.9 142.8,651.9 143.1,651.9 143.1,650.0 143.3,650.0 143.3,649.4 143.3,647.1 144.1,647.1 144.1,644.9 144.8,644.9 145.6,644.9 145.6,642.5 145.6,640.4 146.7,640.4 147.8,640.4 147.8,638.2 148.8,638.2 148.8,636.3 148.8,634.3 149.4,634.3 149.8,634.3 149.8,632.9 149.8,629.7 150.7,629.7 150.7,627.5 151.3,627.5 152.0,627.5 152.0,625.1 152.0,622.8 152.6,622.8 153.3,622.8 153.3,620.5 153.8,620.5 153.8,618.8 153.8,616.5 154.4,616.5 155.0,616.5 155.0,614.6 155.5,614.6 155.5,612.9 155.5,610.0 156.3,610.0 156.3,608.0 156.9,608.0 157.8,608.0 157.8,605.2 157.8,603.5 158.3,603.5 158.3,602.2 158.7,602.2 158.7,600.0 159.4,600.0 159.4,596.1 160.9,596.1 160.9,595.0 161.3,595.0 161.9,595.0 161.9,593.8 162.8,593.8 162.8,592.0 162.8,590.1 163.7,590.1 165.0,590.1 165.0,587.5 165.0,585.8 165.9,585.8 165.9,583.8 166.9,583.8 167.9,583.8 167.9,581.8 167.9,580.0 168.8,580.0 168.8,578.0 170.0,578.0 170.0,575.9 171.2,575.9 172.5,575.9 172.5,573.8 172.5,572.0 173.3,572.0 174.3,572.0 174.3,569.7 175.0,569.7 175.0,568.1 176.3,568.1 176.3,565.0 176.3,563.2 177.1,563.2 177.1,560.9 178.1,560.9 179.2,560.9 179.2,558.1 180.0,558.1 180.0,556.3 180.9,556.3 180.9,554.6 181.9,554.6 181.9,552.5 181.9,550.9 182.7,550.9 182.7,548.8 183.8,548.8 183.8,547.8 184.4,547.8 185.7,547.8 185.7,546.0 185.7,544.2 186.9,544.2 186.9,541.3 188.8,541.3 188.8,539.8 189.8,539.8 189.8,537.8 191.1,537.8 191.1,536.7 191.9,536.7 191.9,533.8 193.8,533.8 195.2,533.8 195.2,531.0 196.3,531.0 196.3,528.6 196.3,527.4 196.9,527.4 198.1,527.4 198.1,525.0 198.8,525.0 198.8,523.7 199.4,523.7 199.4,522.4 199.4,518.8 201.3,518.8 201.3,517.9 201.7,517.9 201.7,515.7 202.8,515.7 202.8,513.8 203.8,513.8 203.8,511.1 205.4,511.1 205.4,510.2 205.9,510.2 207.5,510.2 207.5,507.5 208.2,507.5 208.2,504.8 208.2,501.6 209.0,501.6 209.0,500.6 209.2,500.6 209.2,499.0 210.4,499.0 210.4,497.6 211.4,497.6 212.6,497.6 212.6,496.0 214.1,496.0 214.1,494.5 215.7,494.5 215.7,492.9 215.7,491.4 217.2,491.4 217.2,488.5 219.3,488.5 219.3,486.9 220.4,486.9 220.4,484.5 222.1,484.5 222.1,483.4 222.9,483.4 224.1,483.4 224.1,481.8 225.6,481.8 225.6,480.0 225.6,477.6 227.5,477.6 228.8,477.6 228.8,475.0 229.7,475.0 229.7,473.3 229.7,471.7 230.5,471.7 231.6,471.7 231.6,469.6 232.1,469.6 232.1,468.5 232.1,466.5 233.1,466.5 233.1,464.0 234.3,464.0 235.0,464.0 235.0,462.8 236.0,462.8 236.0,460.8 236.7,460.8 236.7,459.3 238.5,459.3 238.5,457.5 240.2,457.5 240.2,455.8 240.2,454.7 241.3,454.7 241.3,453.7 242.1,453.7 244.5,453.7 244.5,450.8 244.5,449.0 245.9,449.0 245.9,446.7 247.7,446.7 247.7,444.9 249.1,444.9 250.4,444.9 250.4,443.2 251.7,443.2 251.7,440.9 251.7,438.1 253.3,438.1 253.3,436.4 254.3,436.4 254.3,435.2 255.0,435.2 257.4,435.2 257.4,432.4 257.4,431.0 258.6,431.0 258.6,429.7 259.6,429.7 259.6,428.3 260.8,428.3 260.8,427.2 261.9,427.2 264.0,427.2 264.0,425.1 265.1,425.1 265.1,424.0 265.1,422.6 266.5,422.6 267.6,422.6 267.6,421.5 268.8,421.5 268.8,420.3 270.4,420.3 270.4,418.7 272.2,418.7 272.2,416.9 273.3,416.9 273.3,416.0 273.3,414.5 275.3,414.5 278.0,414.5 278.0,412.3 279.1,412.3 279.1,411.2 279.1,409.5 281.0,409.5 283.0,409.5 283.0,407.3 283.0,406.5 283.7,406.5 283.7,404.2 285.7,404.2 285.7,403.4 286.9,403.4 286.9,402.1 288.7,402.1 288.7,400.8 290.6,400.8 290.6,399.3 292.7,399.3 293.8,399.3 293.8,398.5 293.8,397.4 295.4,397.4 296.7,397.4 296.7,396.6 296.7,395.2 298.7,395.2 298.7,393.9 300.6,393.9 300.6,393.3 301.7,393.3 304.4,393.3 304.4,392.0 306.5,392.0 306.5,390.9 306.5,390.4 307.5,390.4 309.0,390.4 309.0,388.9 310.5,388.9 310.5,387.5 312.1,387.5 312.1,385.9 312.1,385.2 312.8,385.2 312.8,383.3 314.7,383.3 316.7,383.3 316.7,381.3 317.5,381.3 317.5,379.9 317.5,378.3 318.5,378.3 320.1,378.3 320.1,375.5 320.1,373.5 322.1,373.5 322.1,372.3 323.4,372.3 324.6,372.3 324.6,371.1 324.6,369.8 325.9,369.8 325.9,368.2 326.9,368.2 326.9,366.0 328.3,366.0 329.4,366.0 329.4,364.5 330.4,364.5 330.4,362.9 330.4,361.8 331.5,361.8 333.0,361.8 333.0,360.3 334.7,360.3 334.7,358.7 336.2,358.7 336.2,357.2 338.3,357.2 338.3,355.5 338.3,353.7 340.6,353.7 341.9,353.7 341.9,352.6 341.9,351.4 343.7,351.4 343.7,350.1 345.6,350.1 345.6,348.8 347.7,348.8 347.7,348.0 348.8,348.0 350.8,348.0 350.8,346.8 350.8,346.0 352.1,346.0 352.1,344.6 354.5,344.6 355.3,344.6 355.3,344.0 355.3,341.9 357.9,341.9 360.3,341.9 360.3,340.0 360.3,338.6 361.4,338.6 363.2,338.6 363.2,336.3 363.2,335.3 364.0,335.3 364.0,333.1 365.7,333.1 367.9,333.1 367.9,331.6 368.8,331.6 368.8,331.0 370.9,331.0 370.9,329.7 372.6,329.7 372.6,328.5 372.6,327.0 374.1,327.0 376.3,327.0 376.3,324.8 376.3,323.7 377.4,323.7 377.4,321.6 379.5,321.6 379.5,320.2 381.6,320.2 381.6,319.0 383.4,319.0 383.4,317.8 385.2,317.8 386.4,317.8 386.4,317.0 389.0,317.0 389.0,314.9 391.0,314.9 391.0,313.3 392.1,313.3 392.1,312.4 393.2,312.4 393.2,311.5 393.2,310.1 394.9,310.1 397.1,310.1 397.1,308.2 399.0,308.2 399.0,306.7 399.0,304.0 401.1,304.0 401.1,302.3 402.6,302.3 403.6,302.3 403.6,301.0 404.7,301.0 404.7,299.4 406.0,299.4 406.0,297.5 406.0,295.4 407.4,295.4 408.2,295.4 408.2,294.1 410.6,294.1 410.6,293.1 412.2,293.1 412.2,292.5 413.9,292.5 413.9,291.8 415.5,291.8 415.5,290.8 417.4,290.8 417.4,289.6 419.6,289.6 419.6,288.3 421.4,288.3 421.4,287.6 423.1,287.6 423.1,287.0 425.4,287.0 425.4,286.1 426.0,286.1 426.0,285.4 428.0,285.4 428.0,282.6 428.8,282.6 428.8,281.5 430.9,281.5 430.9,278.9 430.9,277.0 432.4,277.0 433.4,277.0 433.4,275.7 435.4,275.7 435.4,274.5 436.8,274.5 436.8,273.7 439.1,273.7 439.1,272.3 441.4,272.3 441.4,271.6 441.4,270.9 443.3,270.9 443.3,270.5 444.6,270.5 447.2,270.5 447.2,268.2 448.2,268.2 448.2,267.4 449.2,267.4 449.2,266.5 450.0,266.5 450.0,266.0 450.0,264.7 452.2,264.7 454.9,264.7 454.9,263.1 456.3,263.1 456.3,262.0 457.9,262.0 457.9,260.8 457.9,259.6 459.5,259.6 463.0,259.6 463.0,258.8 463.0,258.5 464.1,258.5 465.0,258.5 465.0,256.7 465.0,253.9 466.4,253.9 466.4,251.9 468.9,251.9 468.9,251.0 469.9,251.0 469.9,249.3 472.1,249.3 474.8,249.3 474.8,247.2 474.8,246.0 476.2,246.0 477.8,246.0 477.8,244.7 477.8,243.4 479.4,243.4 479.4,242.3 480.8,242.3 483.6,242.3 483.6,240.1 483.6,238.7 486.5,238.7 488.2,238.7 488.2,237.8 489.4,237.8 489.4,236.5 491.1,236.5 491.1,234.8 491.1,233.2 492.7,233.2 494.4,233.2 494.4,232.0 494.4,230.6 496.4,230.6 496.4,229.2 498.5,229.2 500.6,229.2 500.6,228.3 500.6,227.4 502.9,227.4 504.2,227.4 504.2,226.9 504.2,225.8 507.1,225.8 508.6,225.8 508.6,225.2 509.9,225.2 509.9,224.7 509.9,223.3 511.1,223.3 513.4,223.3 513.4,220.6 513.4,219.6 514.7,219.6 517.8,219.6 517.8,217.1 517.8,216.1 519.1,216.1 520.9,216.1 520.9,214.6 523.1,214.6 523.1,212.9 524.8,212.9 524.8,211.5 524.8,209.6 528.8,209.6 530.3,209.6 530.3,208.8 530.3,208.2 531.5,208.2 531.5,207.4 532.8,207.4 532.8,205.8 535.4,205.8 535.4,204.7 537.2,204.7 538.8,204.7 538.8,203.1 540.5,203.1 540.5,201.4 540.5,200.4 541.5,200.4 541.5,199.0 542.9,199.0 542.9,197.4 545.3,197.4 546.4,197.4 546.4,196.7 548.2,196.7 548.2,195.5 549.8,195.5 549.8,194.4 551.0,194.4 551.0,193.9 551.0,192.8 553.6,192.8 553.6,191.5 556.7,191.5 558.2,191.5 558.2,191.3 560.0,191.3 560.0,191.0 563.6,191.0 563.6,190.4 563.6,189.9 565.0,189.9 565.0,189.4 566.2,189.4 566.2,188.1 569.3,188.1 571.1,188.1 571.1,187.1 571.1,185.7 573.4,185.7 573.4,184.7 575.0,184.7 577.3,184.7 577.3,183.5 577.3,182.8 578.8,182.8 578.8,181.8 580.8,181.8 582.3,181.8 582.3,181.2 582.3,180.0 585.3,180.0 586.5,180.0 586.5,179.5 586.5,178.4 589.2,178.4 592.2,178.4 592.2,177.1 593.4,177.1 593.4,176.6 595.0,176.6 595.0,176.4 597.6,176.4 597.6,176.1 600.2,176.1 600.2,175.8 600.2,174.9 603.2,174.9 603.2,174.5 604.9,174.5 604.9,173.9 606.9,173.9 609.3,173.9 609.3,172.3 611.6,172.3 611.6,170.8 611.6,169.9 612.9,169.9 612.9,169.3 613.8,169.3 613.8,168.3 615.2,168.3 615.2,166.7 617.7,166.7 619.0,166.7 619.0,165.8 620.6,165.8 620.6,164.7 620.6,163.1 623.4,163.1 624.2,163.1 624.2,162.6 625.4,162.6 625.4,161.9 627.5,161.9 627.5,160.7 627.5,159.7 629.9,159.7 629.9,159.0 631.6,159.0 634.4,159.0 634.4,157.8 636.6,157.8 636.6,157.1 638.1,157.1 638.1,156.6 638.1,155.5 641.3,155.5 641.3,154.9 643.1,154.9 645.8,154.9 645.8,154.0 648.2,154.0 648.2,153.2 648.2,152.5 649.2,152.5 649.2,151.0 651.3,151.0 651.3,149.2 653.9,149.2 653.9,148.4 655.4,148.4 655.4,147.8 656.7,147.8 656.7,146.4 659.6,146.4 659.6,144.9 662.2,144.9 662.2,143.9 664.0,143.9 664.0,143.0 665.5,143.0 666.5,143.0 666.5,142.4 668.1,142.4 668.1,141.6 668.1,140.6 670.1,140.6 671.9,140.6 671.9,139.7 673.4,139.7 673.4,138.9 675.6,138.9 675.6,138.0 678.4,138.0 678.4,136.9 680.3,136.9 680.3,136.1 680.3,134.4 683.0,134.4 684.8,134.4 684.8,133.2 684.8,132.7 686.5,132.7 686.5,132.1 688.7,132.1 688.7,131.6 690.7,131.6 693.8,131.6 693.8,130.7 693.8,130.1 696.4,130.1 696.4,129.4 698.9,129.4 701.2,129.4 701.2,128.8 701.2,128.4 702.9,128.4 702.9,128.1 704.3,128.1 706.0,128.1 706.0,127.8 706.0,127.2 708.4,127.2 711.0,127.2 711.0,126.7 711.0,126.2 712.8,126.2 712.8,125.3 715.8,125.3 717.5,125.3 717.5,124.8 719.0,124.8 719.0,124.4 720.9,124.4 720.9,123.9 722.3,123.9 722.3,123.6 724.1,123.6 724.1,123.1 728.2,123.1 728.2,122.1 728.2,121.6 730.1,121.6 732.5,121.6 732.5,121.0 735.1,121.0 735.1,120.3 735.1,119.8 737.3,119.8 737.3,119.4 738.8,119.4 741.1,119.4 741.1,118.8 744.2,118.8 744.2,118.1 744.2,117.5 746.5,117.5 746.5,117.4 747.5,117.4 750.2,117.4 750.2,117.1 751.3,117.1 751.3,117.0 751.3,116.6 754.2,116.6 756.4,116.6 756.4,116.4 757.6,116.4 757.6,116.1 757.6,115.3 760.2,115.3 760.2,114.5 762.9,114.5 762.9,113.7 765.3,113.7 766.8,113.7 766.8,113.3 769.3,113.3 769.3,112.5 769.3,111.6 771.2,111.6 773.1,111.6 773.1,110.7 775.8,110.7 775.8,109.3 777.9,109.3 777.9,108.5 780.1,108.5 780.1,107.6 780.1,106.7 782.2,106.7 784.3,106.7 784.3,105.7 787.0,105.7 787.0,104.3 787.0,103.5 788.7,103.5 788.7,102.5 791.2,102.5 793.3,102.5 793.3,101.6 793.3,100.9 795.1,100.9 795.1,100.3 797.9,100.3 797.9,100.1 799.2,100.1 801.5,100.1 801.5,99.6 804.3,99.6 804.3,98.2 806.8,98.2 806.8,96.9 806.8,96.4 807.9,96.4 809.2,96.4 809.2,95.7 809.2,94.9 812.7,94.9 812.7,94.6 814.1,94.6 814.1,94.3 815.1,94.3 815.1,93.5 818.6,93.5 820.8,93.5 820.8,92.2 823.3,92.2 823.3,91.8 823.3,91.5 825.4,91.5 826.8,91.5 826.8,91.3 829.4,91.3 829.4,90.9 829.4,89.6 831.5,89.6 831.5,89.1 834.0,89.1 834.0,88.7 836.4,88.7 838.0,88.7 838.0,88.2 838.0,87.2 841.4,87.2 841.4,86.7 842.9,86.7 844.2,86.7 844.2,85.9 844.2,84.8 846.1,84.8 846.1,84.7 848.2,84.7 848.2,84.7 850.3,84.7 852.6,84.7 852.6,84.6 852.6,84.5 855.8,84.5 856.9,84.5 856.9,84.4 856.9,84.3 859.0,84.3 862.3,84.3 862.3,84.0 862.3,83.8 865.4,83.8 867.4,83.8 867.4,83.6 867.4,83.5 869.0,83.5 869.0,83.2 871.6,83.2 875.1,83.2 875.1,82.9 875.1,82.7 877.2,82.7 877.2,82.4 880.0,82.4 880.0,82.2 882.4,82.2 884.8,82.2 884.8,82.0 886.9,82.0 886.9,82.0 889.6,82.0 889.6,82.0 893.1,82.0 893.1,81.9 893.1,81.9 894.9,81.9 894.9,81.9 896.5,81.9 896.5,81.3 898.0,81.3 898.0,80.5 899.9,80.5 901.9,80.5 901.9,79.6 904.4,79.6 904.4,79.0 904.4,78.8 905.5,78.8 908.5,78.8 908.5,78.1 910.3,78.1 910.3,77.7 911.6,76.0 911.6,57.0 913.0,56.0" stroke="#fff" opacity="0.5" stroke-width="6.9"/>
<polyline points="116.0,847.0 116.1,847.0 116.1,845.7 116.1,842.4 116.5,842.4 116.8,842.4 116.8,839.4 116.9,839.4 116.9,837.7 116.9,835.5 117.2,835.5 117.4,835.5 117.4,833.3 117.4,830.5 117.6,830.5 117.6,827.4 118.0,827.4 118.1,827.4 118.1,826.2 118.2,826.2 118.2,825.2 118.2,822.0 118.5,822.0 119.0,822.0 119.0,817.8 119.3,817.8 119.3,815.4 119.5,815.4 119.5,813.5 119.5,811.0 119.8,811.0 119.8,809.8 120.0,809.8 120.0,808.0 120.2,808.0 120.5,808.0 120.5,805.4 120.5,802.6 120.8,802.6 120.8,800.7 121.1,800.7 121.3,800.7 121.3,798.8 121.5,798.8 121.5,797.0 121.5,794.7 121.8,794.7 121.8,792.5 122.1,792.5 122.4,792.5 122.4,789.8 122.6,789.8 122.6,788.1 122.6,785.6 122.9,785.6 123.2,785.6 123.2,783.5 123.4,783.5 123.4,782.1 123.4,780.1 123.6,780.1 123.6,777.5 124.0,777.5 124.0,775.0 124.3,775.0 124.6,775.0 124.6,772.9 124.6,770.7 124.9,770.7 124.9,768.3 125.3,768.3 125.3,765.0 125.8,765.0 126.2,765.0 126.2,762.6 126.5,762.6 126.5,760.4 126.5,758.1 126.8,758.1 126.8,757.0 127.0,757.0 127.4,757.0 127.4,754.5 127.4,752.6 127.8,752.6 127.8,749.9 128.3,749.9 128.5,749.9 128.5,748.6 128.5,746.7 128.8,746.7 128.8,743.8 129.3,743.8 129.3,741.8 129.7,741.8 129.7,740.0 130.0,740.0 130.0,737.4 130.6,737.4 131.1,737.4 131.1,735.4 131.1,733.4 131.5,733.4 131.9,733.4 131.9,731.6 132.2,731.6 132.2,730.8 132.8,730.8 132.8,728.0 133.3,728.0 133.3,726.0 133.8,726.0 133.8,723.9 134.4,723.9 134.4,721.8 134.4,720.0 134.8,720.0 135.4,720.0 135.4,717.6 136.0,717.6 136.0,715.3 136.5,715.3 136.5,713.0 136.5,710.6 137.1,710.6 137.4,710.6 137.4,709.4 138.0,709.4 138.0,707.0 138.0,705.0 138.5,705.0 139.2,705.0 139.2,702.7 139.2,701.3 139.6,701.3 140.1,701.3 140.1,699.6 141.0,699.6 141.0,696.7 141.5,696.7 141.5,695.0 141.8,695.0 141.8,693.9 141.8,691.7 142.5,691.7 142.5,689.4 143.1,689.4 143.6,689.4 143.6,687.8 144.0,687.8 144.0,686.4 145.1,686.4 145.1,682.6 145.1,680.0 145.8,680.0 145.8,678.8 146.2,678.8 146.2,676.4 147.0,676.4 147.8,676.4 147.8,674.0 147.8,671.9 148.5,671.9 149.0,671.9 149.0,670.6 149.0,667.5 150.0,667.5 150.4,667.5 150.4,665.9 150.4,663.6 151.0,663.6 151.3,663.6 151.3,662.6 151.3,661.1 151.7,661.1 151.7,657.9 152.5,657.9 153.3,657.9 153.3,655.0 153.3,653.0 153.9,653.0 153.9,651.8 154.3,651.8 154.3,647.6 155.6,647.6 156.0,647.6 156.0,646.3 156.7,646.3 156.7,643.9 157.4,643.9 157.4,641.3 158.0,641.3 158.0,639.2 158.0,637.5 158.5,637.5 159.3,637.5 159.3,635.1 159.8,635.1 159.8,633.4 160.3,633.4 160.3,632.0 160.3,628.8 161.3,628.8 161.3,625.5 162.3,625.5 162.3,624.5 162.6,624.5 163.0,624.5 163.0,623.1 163.5,623.1 163.5,621.3 163.9,621.3 163.9,619.5 163.9,617.3 164.3,617.3 164.3,615.0 164.8,615.0 164.8,613.1 165.6,613.1 166.8,613.1 166.8,610.1 167.3,610.1 167.3,608.8 167.3,605.9 168.2,605.9 168.6,605.9 168.6,604.7 169.3,604.7 169.3,602.2 170.0,602.2 170.0,600.0 170.7,600.0 170.7,597.2 171.3,597.2 171.3,595.0 171.3,592.0 172.0,592.0 172.0,589.2 172.7,589.2 172.7,588.1 173.0,588.1 173.5,588.1 173.5,586.0 173.5,585.0 173.8,585.0 173.8,581.8 175.1,581.8 175.1,579.7 175.9,579.7 175.9,577.1 177.0,577.1 177.6,577.1 177.6,575.4 178.1,575.4 178.1,574.2 178.1,572.5 178.8,572.5 178.8,569.1 180.5,569.1 181.0,569.1 181.0,568.0 182.5,568.0 182.5,565.1 182.5,563.8 183.1,563.8 183.8,563.8 183.8,562.5 183.8,561.2 184.5,561.2 185.4,561.2 185.4,559.8 185.4,558.1 186.3,558.1 186.3,555.0 188.1,555.0 188.8,555.0 188.8,553.8 189.6,553.8 189.6,552.2 190.6,552.2 190.6,550.1 190.6,548.9 191.2,548.9 192.5,548.9 192.5,546.3 193.5,546.3 193.5,543.8 193.5,541.7 194.3,541.7 194.3,540.0 195.0,540.0 195.0,536.5 196.4,536.5 196.4,535.3 196.9,535.3 196.9,533.8 197.5,533.8 197.5,531.3 199.0,531.3 200.4,531.3 200.4,528.9 201.3,528.9 201.3,527.5 201.3,526.7 202.1,526.7 202.1,525.5 203.3,525.5 203.3,522.8 206.0,522.8 207.5,522.8 207.5,521.3 207.5,519.8 208.5,519.8 209.6,519.8 209.6,518.2 210.6,518.2 210.6,516.6 210.6,513.8 212.5,513.8 213.7,513.8 213.7,511.3 215.0,511.3 215.0,508.8 215.0,507.3 215.8,507.3 216.3,507.3 216.3,506.3 216.9,506.3 216.9,505.3 216.9,502.8 218.2,502.8 219.1,502.8 219.1,501.2 219.1,498.3 220.6,498.3 220.6,496.0 221.8,496.0 221.8,495.1 222.2,495.1 223.5,495.1 223.5,492.5 224.0,492.5 224.0,491.4 224.0,489.1 225.2,489.1 227.5,489.1 227.5,487.2 227.5,486.3 228.7,486.3 231.0,486.3 231.0,484.5 231.0,483.4 231.9,483.4 231.9,481.4 233.5,481.4 233.5,479.6 235.0,479.6 236.7,479.6 236.7,477.6 238.0,477.6 238.0,476.3 238.9,476.3 238.9,475.4 238.9,473.6 240.7,473.6 240.7,471.9 242.4,471.9 243.8,471.9 243.8,470.0 245.1,470.0 245.1,468.1 247.0,468.1 247.0,465.6 248.2,465.6 248.2,463.9 250.3,463.9 250.3,463.0 251.9,463.0 251.9,462.4 253.9,462.4 253.9,461.6 254.8,461.6 254.8,460.5 254.8,459.1 255.9,459.1 258.2,459.1 258.2,456.4 259.6,456.4 259.6,454.7 261.5,454.7 261.5,453.6 261.5,452.5 263.3,452.5 263.3,451.3 265.4,451.3 266.9,451.3 266.9,450.1 269.0,450.1 269.0,448.4 269.0,446.7 271.1,446.7 271.1,444.8 273.1,444.8 275.0,444.8 275.0,442.9 276.0,442.9 276.0,442.0 276.0,440.5 277.3,440.5 277.3,438.4 279.2,438.4 280.0,438.4 280.0,437.5 280.0,435.5 281.6,435.5 281.6,433.1 283.5,433.1 283.5,431.7 284.6,431.7 286.4,431.7 286.4,430.2 288.2,430.2 288.2,428.7 290.1,428.7 290.1,427.1 290.1,426.0 291.5,426.0 293.6,426.0 293.6,424.2 293.6,423.6 294.3,423.6 296.3,423.6 296.3,422.0 296.3,420.3 298.3,420.3 299.0,420.3 299.0,419.8 299.0,418.3 301.4,418.3 301.4,416.9 303.4,416.9 305.2,416.9 305.2,415.7 307.0,415.7 307.0,414.5 307.0,413.3 308.9,413.3 308.9,412.2 310.4,412.2 312.1,412.2 312.1,411.1 315.1,411.1 315.1,409.0 315.1,407.6 317.1,407.6 317.1,406.6 318.4,406.6 320.1,406.6 320.1,405.4 322.4,405.4 322.4,403.8 322.4,402.6 324.3,402.6 325.4,402.6 325.4,401.8 327.0,401.8 327.0,400.8 327.0,399.6 328.8,399.6 329.6,399.6 329.6,399.1 331.8,399.1 331.8,397.6 331.8,396.2 333.9,396.2 333.9,395.5 335.2,395.5 335.2,394.5 337.3,394.5 337.3,393.8 338.6,393.8 338.6,392.7 340.8,392.7 342.2,392.7 342.2,391.8 344.2,391.8 344.2,390.4 346.1,390.4 346.1,389.2 346.1,388.2 347.6,388.2 347.6,387.8 348.4,387.8 348.4,386.8 350.5,386.8 352.1,386.8 352.1,385.9 352.1,384.7 354.5,384.7 354.5,383.0 356.5,383.0 358.0,383.0 358.0,381.8 359.9,381.8 359.9,380.3 361.4,380.3 361.4,379.0 361.4,377.8 362.5,377.8 363.9,377.8 363.9,376.4 365.9,376.4 365.9,374.3 367.7,374.3 367.7,372.4 369.2,372.4 369.2,370.9 370.6,370.9 370.6,369.7 370.6,368.2 372.3,368.2 374.0,368.2 374.0,366.7 374.0,365.7 375.3,365.7 375.3,364.0 377.2,364.0 378.7,364.0 378.7,363.0 379.9,363.0 379.9,362.2 382.1,362.2 382.1,360.7 384.1,360.7 384.1,359.4 384.1,358.5 385.4,358.5 385.4,357.1 387.5,357.1 389.1,357.1 389.1,356.1 389.1,354.8 391.0,354.8 391.0,353.6 392.8,353.6 392.8,352.4 394.6,352.4 394.6,351.2 396.4,351.2 396.4,350.3 397.8,350.3 397.8,348.7 399.8,348.7 401.7,348.7 401.7,347.2 403.6,347.2 403.6,345.7 405.5,345.7 405.5,344.5 405.5,343.2 407.7,343.2 409.3,343.2 409.3,342.2 409.3,340.9 411.6,340.9 412.6,340.9 412.6,340.2 415.0,340.2 415.0,338.8 415.0,337.3 418.1,337.3 418.1,336.7 419.2,336.7 421.9,336.7 421.9,335.4 421.9,334.2 424.2,334.2 426.3,334.2 426.3,333.1 427.6,333.1 427.6,332.5 427.6,331.9 428.8,331.9 428.8,330.6 431.3,330.6 431.3,329.6 433.4,329.6 433.4,328.9 434.5,328.9 436.7,328.9 436.7,327.6 436.7,326.2 439.1,326.2 439.1,324.9 440.7,324.9 440.7,322.8 443.3,322.8 444.8,322.8 444.8,321.6 444.8,320.7 445.8,320.7 448.1,320.7 448.1,318.7 448.1,317.0 450.0,317.0 450.0,315.5 451.8,315.5 453.0,315.5 453.0,314.5 453.0,313.2 454.4,313.2 456.4,313.2 456.4,311.5 456.4,309.7 458.5,309.7 458.5,308.9 459.5,308.9 461.8,308.9 461.8,307.4 461.8,306.4 463.2,306.4 465.3,306.4 465.3,305.1 465.3,304.3 466.4,304.3 467.9,304.3 467.9,303.8 470.5,303.8 470.5,302.9 473.2,302.9 473.2,302.0 473.2,300.3 475.8,300.3 475.8,299.4 477.2,299.4 478.9,299.4 478.9,298.3 480.1,298.3 480.1,297.5 480.1,296.1 481.8,296.1 483.7,296.1 483.7,294.6 483.7,292.9 485.9,292.9 487.5,292.9 487.5,292.6 491.2,292.6 491.2,292.0 492.7,292.0 492.7,291.7 494.0,291.7 494.0,290.7 494.0,289.5 495.5,289.5 498.5,289.5 498.5,287.1 498.5,285.3 500.3,285.3 500.3,284.1 501.5,284.1 503.1,284.1 503.1,282.5 504.4,282.5 504.4,280.8 504.4,279.0 505.8,279.0 505.8,278.0 506.5,278.0 506.5,277.0 507.9,277.0 510.3,277.0 510.3,275.5 512.4,275.5 512.4,274.0 512.4,273.4 513.4,273.4 513.4,272.6 514.5,272.6 514.5,271.3 516.6,271.3 518.0,271.3 518.0,270.4 520.3,270.4 520.3,268.8 523.4,268.8 523.4,266.6 524.4,266.6 524.4,265.9 526.0,265.9 526.0,264.8 526.0,263.6 527.7,263.6 527.7,262.3 529.7,262.3 531.5,262.3 531.5,261.0 531.5,259.8 533.5,259.8 536.2,259.8 536.2,258.1 536.2,256.9 538.2,256.9 538.2,256.1 539.4,256.1 539.4,255.6 540.3,255.6 542.9,255.6 542.9,254.0 542.9,253.1 545.0,253.1 547.3,253.1 547.3,252.2 547.3,251.5 549.0,251.5 549.0,250.0 550.6,250.0 552.3,250.0 552.3,248.5 552.3,247.0 554.0,247.0 554.6,247.0 554.6,246.3 556.1,246.3 556.1,244.4 556.1,242.6 557.6,242.6 559.0,242.6 559.0,240.8 560.8,240.8 560.8,240.0 560.8,238.5 564.1,238.5 564.1,238.1 565.1,238.1 567.3,238.1 567.3,237.1 567.3,236.2 569.2,236.2 570.4,236.2 570.4,235.7 573.9,235.7 573.9,235.0 575.2,235.0 575.2,234.7 575.2,234.5 576.4,234.5 576.4,234.1 578.6,234.1 578.6,233.4 581.9,233.4 581.9,232.4 583.4,232.4 583.4,231.3 585.2,231.3 586.6,231.3 586.6,230.4 586.6,229.1 588.7,229.1 590.3,229.1 590.3,228.1 590.3,227.1 591.9,227.1 591.9,225.4 594.5,225.4 594.5,223.6 596.0,223.6 597.3,223.6 597.3,221.9 598.4,221.9 598.4,220.5 600.0,220.5 600.0,218.6 601.7,218.6 601.7,216.9 601.7,216.0 602.6,216.0 602.6,214.7 603.9,214.7 605.7,214.7 605.7,212.9 605.7,211.5 606.9,211.5 606.9,209.9 608.2,209.9 609.4,209.9 609.4,208.4 609.4,206.0 611.5,206.0 613.2,206.0 613.2,204.8 613.2,203.5 615.0,203.5 615.0,202.8 616.0,202.8 616.0,200.3 619.5,200.3 619.5,198.8 621.5,198.8 621.5,197.1 623.7,197.1 623.7,195.5 625.9,195.5 625.9,194.0 627.9,194.0 627.9,193.4 628.7,193.4 628.7,192.2 630.7,192.2 632.0,192.2 632.0,191.4 634.4,191.4 634.4,189.9 637.2,189.9 637.2,187.7 637.2,186.2 639.0,186.2 639.0,185.4 640.1,185.4 642.5,185.4 642.5,183.8 643.5,183.8 643.5,183.1 643.5,182.2 644.9,182.2 647.0,182.2 647.0,180.8 647.9,180.8 647.9,179.9 649.1,179.9 649.1,178.7 649.1,176.7 651.0,176.7 651.0,175.0 652.7,175.0 654.1,175.0 654.1,173.9 654.1,171.2 657.5,171.2 657.5,170.4 658.5,170.4 658.5,169.4 659.5,169.4 659.5,167.4 661.6,167.4 663.1,167.4 663.1,165.9 663.1,165.2 664.9,165.2 664.9,164.5 666.5,164.5 666.5,163.6 668.8,163.6 668.8,161.7 671.9,161.7 671.9,160.9 673.3,160.9 673.3,160.1 674.5,160.1 674.5,159.1 676.2,159.1 676.2,158.2 677.8,158.2 680.3,158.2 680.3,156.7 683.5,156.7 683.5,155.0 683.5,153.9 685.7,153.9 687.1,153.9 687.1,153.2 687.1,152.5 688.4,152.5 688.4,151.5 690.3,151.5 690.3,149.6 693.8,149.6 693.8,148.4 695.5,148.4 695.5,147.3 697.3,147.3 698.9,147.3 698.9,146.1 698.9,145.0 700.6,145.0 700.6,143.8 702.1,143.8 702.1,142.6 703.5,142.6 705.4,142.6 705.4,141.0 705.4,139.3 707.5,139.3 709.8,139.3 709.8,137.8 709.8,136.5 711.6,136.5 711.6,135.5 713.2,135.5 713.2,134.7 714.4,134.7 716.3,134.7 716.3,133.0 718.3,133.0 718.3,131.2 718.3,129.6 720.1,129.6 721.8,129.6 721.8,128.7 724.5,128.7 724.5,127.4 726.5,127.4 726.5,126.3 728.2,126.3 728.2,125.5 728.2,125.2 729.4,125.2 731.2,125.2 731.2,124.8 731.2,124.2 733.2,124.2 737.3,124.2 737.3,123.2 737.3,122.7 739.1,122.7 741.5,122.7 741.5,122.1 741.5,121.5 743.7,121.5 745.4,121.5 745.4,121.0 745.4,118.8 748.1,118.8 750.3,118.8 750.3,117.0 751.2,117.0 751.2,116.3 752.2,116.3 752.2,115.5 752.2,114.9 753.8,114.9 756.4,114.9 756.4,113.9 756.4,113.3 757.9,113.3 757.9,112.5 760.0,112.5 760.0,111.6 762.4,111.6 762.4,110.7 764.7,110.7 766.5,110.7 766.5,110.0 768.7,110.0 768.7,108.7 768.7,107.6 770.5,107.6 770.5,106.1 772.9,106.1 772.9,105.4 774.0,105.4 774.0,104.5 775.5,104.5 777.0,104.5 777.0,103.6 777.0,102.6 778.6,102.6 780.8,102.6 780.8,101.1 780.8,100.2 782.2,100.2 784.0,100.2 784.0,99.0 785.7,99.0 785.7,98.1 785.7,96.7 788.6,96.7 788.6,96.0 789.9,96.0 791.9,96.0 791.9,95.0 791.9,94.0 793.1,94.0 795.0,94.0 795.0,92.5 797.7,92.5 797.7,91.2 797.7,90.5 799.4,90.5 799.4,89.5 801.4,89.5 802.5,89.5 802.5,88.3 802.5,87.0 803.6,87.0 805.4,87.0 805.4,86.2 805.4,85.0 808.1,85.0 810.9,85.0 810.9,83.8 812.2,83.8 812.2,83.2 812.2,82.9 813.3,82.9 815.3,82.9 815.3,82.4 817.3,82.4 817.3,81.9 820.1,81.9 820.1,81.3 820.1,80.8 822.0,80.8 822.0,80.7 824.2,80.7 826.1,80.7 826.1,80.6 826.1,80.5 828.7,80.5 828.7,80.3 831.6,80.3 831.6,80.2 834.0,80.2 834.0,80.0 835.1,80.0 835.1,79.6 837.1,79.6 840.0,79.6 840.0,79.0 842.9,79.0 842.9,78.4 845.6,78.4 845.6,77.9 847.4,77.9 847.4,77.5 847.4,77.1 849.3,77.1 851.6,77.1 851.6,76.6 853.6,76.6 853.6,76.2 853.6,75.8 855.8,75.8 859.2,75.8 859.2,74.7 861.3,74.7 861.3,74.1 861.3,73.8 862.2,73.8 862.2,73.3 863.6,73.3 865.4,73.3 865.4,72.6 865.4,71.3 868.7,71.3 871.0,71.3 871.0,69.8 872.0,69.8 872.0,69.2 872.0,68.0 873.8,68.0 877.1,68.0 877.1,67.1 877.1,66.8 878.3,66.8 880.0,66.8 880.0,66.5 882.5,66.5 882.5,66.0 884.8,66.0 884.8,65.5 884.8,65.2 886.7,65.2 890.0,65.2 890.0,64.8 892.5,64.8 892.5,63.7 892.5,63.1 893.9,63.1 896.0,63.1 896.0,62.2 896.0,61.3 898.4,61.3 900.5,61.3 900.5,60.6 900.5,59.7 903.1,59.7 903.1,59.0 905.1,59.0 905.1,58.2 907.1,58.2 907.1,57.4 909.2,57.4 909.2,56.7 911.3,56.7 913.0,56.7 913.0,56.0" stroke="#FF5722"/>
<polyline points="116.0,847.0 127.5,762.0 367.7,482.5 369.3,468.4 820.6,87.0 835.1,66.4 913.0,56.0" stroke="#03A9F4"/>
<polyline points="116.0,847.0 116.0,844.0 116.7,844.0 116.7,841.0 117.3,841.0 117.3,840.1 117.5,840.1 117.7,840.1 117.7,839.1 118.3,839.1 118.3,836.4 118.9,836.4 118.9,833.9 118.9,831.5 119.4,831.5 119.4,830.0 119.7,830.0 120.2,830.0 120.2,826.3 120.6,826.3 120.6,823.7 120.6,821.5 120.9,821.5 120.9,819.7 121.2,819.7 121.2,818.7 121.3,818.7 121.5,818.7 121.5,817.6 121.5,815.3 121.8,815.3 121.8,813.4 122.1,813.4 122.1,811.3 122.4,811.3 122.4,807.8 122.9,807.8 122.9,805.3 123.2,805.3 123.2,802.7 123.6,802.7 123.9,802.7 123.9,801.0 123.9,800.0 124.0,800.0 124.0,797.1 124.5,797.1 124.5,796.1 124.8,796.1 124.8,793.7 125.2,793.7 125.6,793.7 125.6,791.3 126.0,791.3 126.0,789.6 126.3,789.6 126.3,787.7 126.3,785.9 126.7,785.9 127.2,785.9 127.2,783.1 127.2,781.2 127.6,781.2 128.1,781.2 128.1,778.7 128.1,777.2 128.3,777.2 128.9,777.2 128.9,774.5 128.9,771.8 129.4,771.8 129.4,770.0 129.7,770.0 129.7,767.8 130.0,767.8 130.4,767.8 130.4,765.6 130.4,763.0 130.8,763.0 130.8,760.6 131.2,760.6 131.2,758.9 131.4,758.9 131.6,758.9 131.6,757.5 131.6,755.3 132.0,755.3 132.5,755.3 132.5,752.0 133.0,752.0 133.0,749.4 133.0,747.8 133.2,747.8 133.5,747.8 133.5,746.3 133.5,743.1 134.1,743.1 134.3,743.1 134.3,741.9 134.7,741.9 134.7,739.7 135.2,739.7 135.2,736.5 135.2,735.0 135.5,735.0 135.7,735.0 135.7,733.8 136.3,733.8 136.3,730.1 136.3,729.1 136.4,729.1 136.9,729.1 136.9,726.0 137.1,726.0 137.1,725.0 137.1,723.3 137.4,723.3 137.9,723.3 137.9,720.0 138.1,720.0 138.1,718.8 138.1,716.5 138.4,716.5 138.4,713.4 138.8,713.4 138.8,709.9 139.3,709.9 139.3,708.4 139.5,708.4 139.5,706.2 139.8,706.2 139.8,705.0 140.0,705.0 140.6,705.0 140.6,702.7 140.6,701.0 141.0,701.0 141.8,701.0 141.8,698.2 141.8,696.3 142.3,696.3 142.6,696.3 142.6,695.0 142.6,692.6 143.1,692.6 143.3,692.6 143.3,691.2 144.0,691.2 144.0,687.5 144.4,687.5 144.4,685.8 144.9,685.8 144.9,683.2 145.3,683.2 145.3,681.0 145.3,680.0 145.5,680.0 146.0,680.0 146.0,678.3 146.0,675.6 146.7,675.6 146.7,673.0 147.4,673.0 147.4,670.3 148.1,670.3 148.1,669.1 148.4,669.1 148.8,669.1 148.8,667.5 148.8,664.8 149.4,664.8 150.2,664.8 150.2,661.7 150.5,661.7 150.5,660.5 150.8,660.5 150.8,659.2 151.4,659.2 151.4,656.6 151.8,656.6 151.8,655.0 152.5,655.0 152.5,652.7 152.5,650.6 153.1,650.6 153.1,648.9 153.6,648.9 153.6,646.3 154.3,646.3 155.0,646.3 155.0,644.0 155.0,641.4 155.7,641.4 156.5,641.4 156.5,638.7 156.8,638.7 156.8,637.5 156.8,635.0 157.7,635.0 158.2,635.0 158.2,633.4 158.2,631.6 158.9,631.6 159.9,631.6 159.9,628.8 159.9,627.7 160.3,627.7 160.3,624.6 161.6,624.6 162.2,624.6 162.2,623.3 163.0,623.3 163.0,621.3 163.0,619.5 163.9,619.5 164.9,619.5 164.9,617.6 165.5,617.6 165.5,616.3 166.3,616.3 166.3,614.8 166.3,612.0 167.7,612.0 168.1,612.0 168.1,611.2 169.3,611.2 169.3,608.8 170.8,608.8 170.8,605.3 170.8,602.9 171.8,602.9 171.8,601.5 172.4,601.5 172.4,600.0 173.0,600.0 173.0,597.3 173.3,597.3 173.3,596.4 173.5,596.4 173.8,596.4 173.8,593.8 174.6,593.8 174.6,592.1 174.6,590.2 175.6,590.2 175.6,587.4 177.0,587.4 177.0,585.9 177.7,585.9 177.7,583.8 178.8,583.8 178.8,581.9 179.7,581.9 179.7,580.3 180.6,580.3 180.6,577.8 181.8,577.8 181.8,576.1 182.7,576.1 183.8,576.1 183.8,573.8 184.6,573.8 184.6,571.9 186.1,571.9 186.1,568.3 186.1,567.0 186.6,567.0 186.6,565.0 187.5,565.0 189.3,565.0 189.3,562.1 189.3,560.7 190.1,560.7 190.1,558.8 191.3,558.8 191.3,556.9 193.2,556.9 193.2,554.9 195.2,554.9 195.2,553.8 196.3,553.8 196.3,552.7 196.8,552.7 197.9,552.7 197.9,550.5 197.9,547.8 199.3,547.8 200.0,547.8 200.0,546.3 201.5,546.3 201.5,543.8 202.8,543.8 202.8,541.7 203.8,541.7 203.8,540.0 203.8,538.7 205.5,538.7 207.8,538.7 207.8,537.0 208.8,537.0 208.8,536.3 208.8,534.4 210.1,534.4 211.6,534.4 211.6,532.1 211.6,530.3 212.8,530.3 212.8,528.8 213.8,528.8 215.2,528.8 215.2,526.6 215.2,524.3 216.8,524.3 216.8,523.2 217.5,523.2 217.5,521.3 218.8,521.3 218.8,520.6 219.3,520.6 220.5,520.6 220.5,518.9 220.5,516.7 222.0,516.7 222.0,514.1 223.8,514.1 223.8,512.0 225.2,512.0 226.9,512.0 226.9,509.8 226.9,507.7 228.5,507.7 228.5,506.9 229.1,506.9 230.6,506.9 230.6,504.8 230.6,502.9 232.1,502.9 232.1,501.7 233.3,501.7 235.6,501.7 235.6,499.4 237.5,499.4 237.5,497.5 237.5,496.0 239.0,496.0 239.0,494.8 239.7,494.8 239.7,493.8 240.3,493.8 241.6,493.8 241.6,491.4 241.6,488.0 243.6,488.0 244.7,488.0 244.7,485.8 245.6,485.8 245.6,483.8 245.6,481.1 247.0,481.1 247.9,481.1 247.9,480.0 247.9,477.8 249.7,477.8 249.7,475.4 251.6,475.4 253.8,475.4 253.8,472.8 253.8,471.8 254.7,471.8 254.7,470.8 255.6,470.8 256.9,470.8 256.9,469.2 256.9,467.5 258.4,467.5 259.6,467.5 259.6,466.2 259.6,465.2 261.3,465.2 264.0,465.2 264.0,463.6 264.0,462.7 265.4,462.7 265.4,460.6 267.9,460.6 267.9,460.0 268.7,460.0 268.7,458.1 270.9,458.1 272.2,458.1 272.2,457.0 272.2,455.1 274.3,455.1 274.3,454.4 275.0,454.4 275.0,452.8 276.7,452.8 276.7,451.6 278.0,451.6 279.4,451.6 279.4,449.6 280.6,449.6 280.6,447.9 280.6,445.5 282.3,445.5 283.3,445.5 283.3,444.5 286.0,444.5 286.0,441.8 287.6,441.8 287.6,440.2 289.2,440.2 289.2,438.6 290.6,438.6 290.6,437.2 290.6,436.1 291.7,436.1 291.7,433.9 293.9,433.9 296.1,433.9 296.1,431.7 297.5,431.7 297.5,430.9 299.3,430.9 299.3,429.9 299.3,428.9 300.9,428.9 304.1,428.9 304.1,427.1 306.1,427.1 306.1,425.8 306.1,424.7 307.7,424.7 307.7,423.8 309.0,423.8 309.0,422.5 311.0,422.5 311.0,421.2 312.3,421.2 312.3,419.6 313.9,419.6 313.9,418.2 315.3,418.2 315.3,416.8 316.7,416.8 318.1,416.8 318.1,415.7 320.2,415.7 320.2,414.0 322.4,414.0 322.4,412.2 324.3,412.2 324.3,410.4 324.3,409.4 325.3,409.4 326.4,409.4 326.4,408.2 328.2,408.2 328.2,406.5 328.2,405.0 329.4,405.0 329.4,403.5 330.6,403.5 332.7,403.5 332.7,400.8 334.5,400.8 334.5,399.3 334.5,398.3 335.7,398.3 338.1,398.3 338.1,396.3 339.6,396.3 339.6,395.0 342.3,395.0 342.3,392.3 343.2,392.3 343.2,391.4 344.2,391.4 344.2,390.4 345.4,390.4 345.4,389.3 346.8,389.3 346.8,388.3 346.8,387.4 348.2,387.4 350.6,387.4 350.6,385.8 352.2,385.8 352.2,384.7 352.2,382.4 354.1,382.4 354.1,380.9 355.4,380.9 357.2,380.9 357.2,378.7 357.2,377.8 358.0,377.8 359.4,377.8 359.4,376.1 359.4,374.8 360.6,374.8 362.6,374.8 362.6,372.3 362.6,371.0 363.7,371.0 363.7,370.1 365.4,370.1 365.4,369.3 367.0,369.3 367.0,368.0 369.2,368.0 371.2,368.0 371.2,366.8 372.5,366.8 372.5,366.0 372.5,365.2 373.8,365.2 374.4,365.2 374.4,364.4 374.4,362.0 376.0,362.0 377.4,362.0 377.4,360.2 379.0,360.2 379.0,357.9 379.5,357.9 379.5,357.1 379.5,355.9 380.7,355.9 380.7,354.8 381.8,354.8 384.2,354.8 384.2,352.4 384.2,351.4 385.2,351.4 385.2,350.0 386.6,350.0 388.7,350.0 388.7,347.9 390.9,347.9 390.9,345.7 390.9,344.5 392.1,344.5 394.0,344.5 394.0,342.9 395.4,342.9 395.4,341.8 397.0,341.8 397.0,340.4 399.0,340.4 399.0,338.8 400.6,338.8 400.6,337.5 400.6,335.9 402.5,335.9 402.5,334.7 403.9,334.7 403.9,333.1 405.9,333.1 408.2,333.1 408.2,331.9 410.0,331.9 410.0,331.0 410.0,329.6 412.7,329.6 415.2,329.6 415.2,328.1 416.6,328.1 416.6,327.3 418.5,327.3 418.5,326.2 418.5,325.3 419.9,325.3 422.0,325.3 422.0,324.0 424.2,324.0 424.2,322.7 424.2,321.0 425.9,321.0 425.9,319.0 427.9,319.0 427.9,318.2 428.8,318.2 430.2,318.2 430.2,317.7 430.2,316.6 433.6,316.6 433.6,315.9 435.7,315.9 437.1,315.9 437.1,314.5 438.7,314.5 438.7,312.9 438.7,311.3 440.3,311.3 442.3,311.3 442.3,310.1 444.4,310.1 444.4,308.8 446.0,308.8 446.0,307.8 448.1,307.8 448.1,306.7 448.1,305.7 450.0,305.7 452.0,305.7 452.0,304.1 452.0,302.6 453.9,302.6 453.9,301.7 455.1,301.7 456.1,301.7 456.1,300.9 459.0,300.9 459.0,299.9 459.0,299.2 461.1,299.2 462.9,299.2 462.9,298.6 462.9,296.8 464.8,296.8 465.6,296.8 465.6,295.9 467.6,295.9 467.6,294.0 467.6,292.9 468.7,292.9 468.7,291.9 470.4,291.9 470.4,290.7 472.5,290.7 472.5,289.0 475.4,289.0 476.7,289.0 476.7,288.3 479.2,288.3 479.2,287.5 481.4,287.5 481.4,286.8 484.0,286.8 484.0,286.0 485.9,286.0 485.9,285.4 488.5,285.4 488.5,283.7 488.5,282.5 490.4,282.5 490.4,281.0 492.6,281.0 492.6,280.4 493.7,280.4 495.4,280.4 495.4,279.2 497.3,279.2 497.3,278.0 499.7,278.0 499.7,276.4 501.0,276.4 501.0,275.5 501.7,275.5 501.7,275.1 504.2,275.1 504.2,273.4 504.2,271.9 506.4,271.9 507.9,271.9 507.9,271.0 507.9,269.9 509.5,269.9 511.1,269.9 511.1,268.8 511.1,268.2 512.6,268.2 512.6,266.9 515.6,266.9 515.6,265.9 517.8,265.9 519.1,265.9 519.1,265.4 521.4,265.4 521.4,264.0 521.4,262.5 523.8,262.5 523.8,261.9 524.8,261.9 524.8,261.5 525.8,261.5 525.8,260.6 527.7,260.6 527.7,259.6 530.0,259.6 531.9,259.6 531.9,258.2 531.9,256.9 533.8,256.9 533.8,256.3 534.9,256.3 537.1,256.3 537.1,254.9 538.8,254.9 538.8,254.0 540.6,254.0 540.6,252.9 541.8,252.9 541.8,252.2 541.8,251.5 543.0,251.5 543.0,250.4 545.0,250.4 547.5,250.4 547.5,248.9 547.5,247.7 549.8,247.7 549.8,246.9 551.5,246.9 551.5,245.9 553.4,245.9 553.4,245.4 554.4,245.4 557.2,245.4 557.2,244.4 560.0,244.4 560.0,243.4 561.5,243.4 561.5,242.8 562.4,242.8 562.4,242.5 562.4,241.4 564.5,241.4 566.9,241.4 566.9,240.3 566.9,239.1 569.3,239.1 570.4,239.1 570.4,238.4 570.4,236.6 573.0,236.6 575.0,236.6 575.0,235.3 575.0,234.5 576.2,234.5 576.2,233.3 577.7,233.3 579.2,233.3 579.2,232.1 579.2,229.9 581.9,229.9 581.9,229.1 583.1,229.1 583.1,227.7 585.2,227.7 585.2,226.7 586.9,226.7 588.8,226.7 588.8,225.4 588.8,224.0 590.6,224.0 590.6,221.5 593.6,221.5 593.6,220.8 594.5,220.8 594.5,219.1 597.3,219.1 598.3,219.1 598.3,218.5 600.3,218.5 600.3,217.3 600.3,215.0 603.1,215.0 603.1,214.0 604.3,214.0 604.3,213.2 605.2,213.2 605.2,211.6 607.5,211.6 607.5,210.6 608.9,210.6 611.7,210.6 611.7,208.6 611.7,208.0 612.5,208.0 613.8,208.0 613.8,207.1 616.5,207.1 616.5,204.8 616.5,203.8 617.7,203.8 619.3,203.8 619.3,202.4 619.3,201.1 620.8,201.1 621.8,201.1 621.8,200.3 623.6,200.3 623.6,199.2 625.5,199.2 625.5,198.2 627.1,198.2 627.1,197.3 629.8,197.3 629.8,195.7 632.5,195.7 632.5,194.9 632.5,194.4 634.4,194.4 634.4,193.9 636.2,193.9 636.2,193.4 637.8,193.4 639.3,193.4 639.3,192.2 642.2,192.2 642.2,189.9 642.2,188.8 643.6,188.8 645.9,188.8 645.9,187.4 647.7,187.4 647.7,186.4 649.3,186.4 649.3,185.4 649.3,184.5 652.0,184.5 652.0,183.8 654.2,183.8 654.2,183.1 656.2,183.1 656.2,181.4 659.0,181.4 659.0,180.7 660.0,180.7 660.0,179.6 661.9,179.6 661.9,178.4 664.0,178.4 666.3,178.4 666.3,177.0 666.3,176.2 667.6,176.2 667.6,175.2 669.3,175.2 671.5,175.2 671.5,173.9 671.5,172.7 673.4,172.7 673.4,171.3 676.2,171.3 676.2,170.4 678.1,170.4 678.1,169.3 680.3,169.3 682.5,169.3 682.5,167.6 682.5,167.0 683.3,167.0 683.3,165.8 684.9,165.8 686.5,165.8 686.5,164.6 688.4,164.6 688.4,163.5 690.5,163.5 690.5,162.2 690.5,161.0 692.5,161.0 692.5,160.1 693.9,160.1 696.1,160.1 696.1,158.8 696.1,157.9 697.5,157.9 697.5,156.3 699.7,156.3 701.7,156.3 701.7,155.0 701.7,154.2 702.9,154.2 704.7,154.2 704.7,152.4 706.6,152.4 706.6,150.5 708.2,150.5 708.2,148.9 709.8,148.9 709.8,147.3 712.4,147.3 712.4,145.8 712.4,145.0 713.8,145.0 715.7,145.0 715.7,143.9 717.8,143.9 717.8,142.7 720.0,142.7 720.0,142.7 721.7,142.7 721.7,142.7 724.7,142.7 724.7,142.7 725.8,142.7 725.8,142.1 728.4,142.1 728.4,140.9 731.6,140.9 731.6,139.3 731.6,138.1 733.7,138.1 735.9,138.1 735.9,136.8 735.9,135.6 738.0,135.6 739.6,135.6 739.6,134.7 739.6,133.6 741.0,133.6 743.5,133.6 743.5,131.6 745.4,131.6 745.4,130.1 746.5,130.1 746.5,127.9 746.5,125.5 747.6,125.5 747.6,123.6 750.8,123.6 750.8,122.9 752.0,122.9 753.4,122.9 753.4,122.1 753.4,120.4 755.1,120.4 755.1,119.3 756.2,119.3 758.4,119.3 758.4,117.0 759.9,117.0 759.9,115.9 761.5,115.9 761.5,114.8 761.5,113.8 762.9,113.8 762.9,112.4 764.8,112.4 766.6,112.4 766.6,111.1 768.0,111.1 768.0,110.0 768.0,107.0 770.7,107.0 771.5,107.0 771.5,106.0 772.6,106.0 772.6,104.8 772.6,104.4 774.7,104.4 778.0,104.4 778.0,103.7 778.0,103.5 779.0,103.5 779.0,101.0 781.0,101.0 782.2,101.0 782.2,99.6 782.2,98.7 784.6,98.7 787.1,98.7 787.1,97.7 788.7,97.7 788.7,97.1 788.7,96.4 790.9,96.4 790.9,96.1 792.0,96.1 795.1,96.1 795.1,95.1 796.2,95.1 796.2,94.9 799.9,94.9 799.9,94.1 799.9,93.8 801.5,93.8 803.3,93.8 803.3,91.4 803.3,89.8 804.5,89.8 805.4,89.8 805.4,88.7 805.4,88.2 807.1,88.2 807.1,87.4 810.0,87.4 810.0,86.6 812.2,86.6 813.8,86.6 813.8,86.0 813.8,84.6 818.1,84.6 818.1,84.1 819.3,84.1 819.3,83.6 820.8,83.6 820.8,82.3 823.5,82.3 823.5,81.0 826.1,81.0 828.0,81.0 828.0,80.0 828.0,79.3 829.4,79.3 829.4,78.7 830.9,78.7 830.9,78.1 832.3,78.1 832.3,76.4 836.4,76.4 837.4,76.4 837.4,76.1 839.6,76.1 839.6,75.5 839.6,74.8 842.3,74.8 842.3,74.3 844.4,74.3 846.1,74.3 846.1,73.8 848.5,73.8 848.5,73.2 848.5,72.5 851.0,72.5 851.0,72.2 852.4,72.2 852.4,71.6 854.8,71.6 855.8,71.6 855.8,71.3 858.5,71.3 858.5,70.4 860.4,70.4 860.4,69.7 862.8,69.7 862.8,68.9 864.0,68.9 864.0,68.5 864.0,68.0 865.4,68.0 867.8,68.0 867.8,67.2 867.8,66.8 869.1,66.8 869.1,65.9 871.7,65.9 873.7,65.9 873.7,65.3 873.7,64.8 875.1,64.8 876.6,64.8 876.6,63.6 876.6,62.4 878.1,62.4 878.1,60.6 880.4,60.6 881.5,60.6 881.5,59.7 881.5,59.3 884.2,59.3 884.2,58.9 886.6,58.9 886.6,58.7 887.7,58.7 890.0,58.7 890.0,58.4 892.8,58.4 892.8,57.9 894.7,57.9 894.7,57.6 897.3,57.6 897.3,57.2 899.0,57.2 899.0,56.9 899.0,56.5 900.8,56.5 903.1,56.5 903.1,56.0 905.8,56.0 905.8,55.5 905.8,55.6 906.9,55.6 910.0,55.6 910.0,55.8 913.0,55.8 913.0,56.0" stroke="#009688"/>
<polyline points="116.0,847.0 116.4,810.0 117.3,770.0 119.6,750.0 123.4,720.0 126.3,687.5 130.0,656.3 131.7,640.8 156.7,508.2 186.4,422.0 236.4,330.1 302.5,249.6 439.4,168.4 657.6,101.8 913.0,56.0" stroke="#673AB7"/>
<polyline points="116.0,847.0 117.6,804.0 913.0,56.0" stroke="#B3DA38"/>
<polyline points="116.0,847.0 116.0,845.3 116.1,845.3 116.2,845.3 116.2,842.8 116.2,840.7 116.3,840.7 116.4,840.7 116.4,838.0 116.4,835.2 116.5,835.2 116.5,834.0 116.6,834.0 116.6,833.0 116.6,833.0 116.6,829.6 116.8,829.6 116.8,827.9 116.8,827.9 116.9,827.9 116.9,826.2 116.9,822.3 117.1,822.3 117.1,820.0 117.2,820.0 117.2,818.5 117.3,818.5 117.3,818.5 117.3,817.6 117.3,814.7 117.5,814.7 117.5,812.8 117.6,812.8 117.7,812.8 117.7,810.2 117.9,810.2 117.9,807.3 118.0,807.3 118.0,804.8 118.0,801.8 118.2,801.8 118.2,801.8 118.2,800.0 118.2,797.8 118.4,797.8 118.4,796.4 118.5,796.4 118.5,794.5 118.6,794.5 118.6,792.8 118.7,792.8 118.7,791.3 118.8,791.3 119.0,791.3 119.0,789.2 119.0,787.1 119.1,787.1 119.1,784.3 119.3,784.3 119.5,784.3 119.5,782.0 119.7,782.0 119.7,779.1 119.7,776.4 119.9,776.4 119.9,773.4 120.1,773.4 120.2,773.4 120.2,771.1 120.2,770.0 120.3,770.0 120.6,770.0 120.6,768.0 120.6,766.6 120.8,766.6 121.0,766.6 121.0,764.9 121.0,761.9 121.5,761.9 121.5,758.6 122.0,758.6 122.0,757.6 122.1,757.6 122.1,755.0 122.5,755.0 122.9,755.0 122.9,752.8 122.9,751.3 123.2,751.3 123.7,751.3 123.7,748.1 124.0,748.1 124.0,746.8 124.0,745.0 124.3,745.0 124.3,743.6 124.6,743.6 124.6,740.9 125.1,740.9 125.1,738.2 125.7,738.2 125.7,736.7 126.0,736.7 126.0,735.0 126.3,735.0 126.3,732.0 126.8,732.0 126.8,730.1 127.1,730.1 127.4,730.1 127.4,728.3 127.8,728.3 127.8,725.9 127.8,724.5 128.0,724.5 128.2,724.5 128.2,723.0 128.2,720.0 128.7,720.0 128.7,717.5 129.2,717.5 129.5,717.5 129.5,716.5 130.0,716.5 130.0,714.1 130.0,712.0 130.5,712.0 130.5,709.4 131.0,709.4 131.4,709.4 131.4,707.7 132.0,707.7 132.0,705.0 132.0,702.1 132.8,702.1 133.3,702.1 133.3,700.1 133.9,700.1 133.9,698.0 133.9,696.0 134.4,696.0 135.0,696.0 135.0,693.8 135.4,693.8 135.4,691.2 135.8,691.2 135.8,688.2 135.8,686.4 136.0,686.4 136.2,686.4 136.2,684.8 136.7,684.8 136.7,681.6 136.9,681.6 136.9,680.0 136.9,677.3 137.4,677.3 137.4,675.5 137.8,675.5 138.3,675.5 138.3,672.7 138.5,672.7 138.5,671.6 138.8,671.6 138.8,670.0 139.3,670.0 139.3,668.0 139.3,666.7 139.6,666.7 139.6,664.0 140.3,664.0 140.3,661.2 141.0,661.2 141.3,661.2 141.3,660.0 141.5,660.0 141.5,658.7 141.9,658.7 141.9,656.9 142.4,656.9 142.4,653.7 142.4,651.9 142.8,651.9 143.1,651.9 143.1,650.0 143.3,650.0 143.3,649.4 143.3,647.1 144.1,647.1 144.1,644.9 144.8,644.9 145.6,644.9 145.6,642.5 145.6,640.4 146.7,640.4 147.8,640.4 147.8,638.2 148.8,638.2 148.8,636.3 148.8,634.3 149.4,634.3 149.8,634.3 149.8,632.9 149.8,629.7 150.7,629.7 150.7,627.5 151.3,627.5 152.0,627.5 152.0,625.1 152.0,622.8 152.6,622.8 153.3,622.8 153.3,620.5 153.8,620.5 153.8,618.8 153.8,616.5 154.4,616.5 155.0,616.5 155.0,614.6 155.5,614.6 155.5,612.9 155.5,610.0 156.3,610.0 156.3,608.0 156.9,608.0 157.8,608.0 157.8,605.2 157.8,603.5 158.3,603.5 158.3,602.2 158.7,602.2 158.7,600.0 159.4,600.0 159.4,596.1 160.9,596.1 160.9,595.0 161.3,595.0 161.9,595.0 161.9,593.8 162.8,593.8 162.8,592.0 162.8,590.1 163.7,590.1 165.0,590.1 165.0,587.5 165.0,585.8 165.9,585.8 165.9,583.8 166.9,583.8 167.9,583.8 167.9,581.8 167.9,580.0 168.8,580.0 168.8,578.0 170.0,578.0 170.0,575.9 171.2,575.9 172.5,575.9 172.5,573.8 172.5,572.0 173.3,572.0 174.3,572.0 174.3,569.7 175.0,569.7 175.0,568.1 176.3,568.1 176.3,565.0 176.3,563.2 177.1,563.2 177.1,560.9 178.1,560.9 179.2,560.9 179.2,558.1 180.0,558.1 180.0,556.3 180.9,556.3 180.9,554.6 181.9,554.6 181.9,552.5 181.9,550.9 182.7,550.9 182.7,548.8 183.8,548.8 183.8,547.8 184.4,547.8 185.7,547.8 185.7,546.0 185.7,544.2 186.9,544.2 186.9,541.3 188.8,541.3 188.8,539.8 189.8,539.8 189.8,537.8 191.1,537.8 191.1,536.7 191.9,536.7 191.9,533.8 193.8,533.8 195.2,533.8 195.2,531.0 196.3,531.0 196.3,528.6 196.3,527.4 196.9,527.4 198.1,527.4 198.1,525.0 198.8,525.0 198.8,523.7 199.4,523.7 199.4,522.4 199.4,518.8 201.3,518.8 201.3,517.9 201.7,517.9 201.7,515.7 202.8,515.7 202.8,513.8 203.8,513.8 203.8,511.1 205.4,511.1 205.4,510.2 205.9,510.2 207.5,510.2 207.5,507.5 208.2,507.5 208.2,504.8 208.2,501.6 209.0,501.6 209.0,500.6 209.2,500.6 209.2,499.0 210.4,499.0 210.4,497.6 211.4,497.6 212.6,497.6 212.6,496.0 214.1,496.0 214.1,494.5 215.7,494.5 215.7,492.9 215.7,491.4 217.2,491.4 217.2,488.5 219.3,488.5 219.3,486.9 220.4,486.9 220.4,484.5 222.1,484.5 222.1,483.4 222.9,483.4 224.1,483.4 224.1,481.8 225.6,481.8 225.6,480.0 225.6,477.6 227.5,477.6 228.8,477.6 228.8,475.0 229.7,475.0 229.7,473.3 229.7,471.7 230.5,471.7 231.6,471.7 231.6,469.6 232.1,469.6 232.1,468.5 232.1,466.5 233.1,466.5 233.1,464.0 234.3,464.0 235.0,464.0 235.0,462.8 236.0,462.8 236.0,460.8 236.7,460.8 236.7,459.3 238.5,459.3 238.5,457.5 240.2,457.5 240.2,455.8 240.2,454.7 241.3,454.7 241.3,453.7 242.1,453.7 244.5,453.7 244.5,450.8 244.5,449.0 245.9,449.0 245.9,446.7 247.7,446.7 247.7,444.9 249.1,444.9 250.4,444.9 250.4,443.2 251.7,443.2 251.7,440.9 251.7,438.1 253.3,438.1 253.3,436.4 254.3,436.4 254.3,435.2 255.0,435.2 257.4,435.2 257.4,432.4 257.4,431.0 258.6,431.0 258.6,429.7 259.6,429.7 259.6,428.3 260.8,428.3 260.8,427.2 261.9,427.2 264.0,427.2 264.0,425.1 265.1,425.1 265.1,424.0 265.1,422.6 266.5,422.6 267.6,422.6 267.6,421.5 268.8,421.5 268.8,420.3 270.4,420.3 270.4,418.7 272.2,418.7 272.2,416.9 273.3,416.9 273.3,416.0 273.3,414.5 275.3,414.5 278.0,414.5 278.0,412.3 279.1,412.3 279.1,411.2 279.1,409.5 281.0,409.5 283.0,409.5 283.0,407.3 283.0,406.5 283.7,406.5 283.7,404.2 285.7,404.2 285.7,403.4 286.9,403.4 286.9,402.1 288.7,402.1 288.7,400.8 290.6,400.8 290.6,399.3 292.7,399.3 293.8,399.3 293.8,398.5 293.8,397.4 295.4,397.4 296.7,397.4 296.7,396.6 296.7,395.2 298.7,395.2 298.7,393.9 300.6,393.9 300.6,393.3 301.7,393.3 304.4,393.3 304.4,392.0 306.5,392.0 306.5,390.9 306.5,390.4 307.5,390.4 309.0,390.4 309.0,388.9 310.5,388.9 310.5,387.5 312.1,387.5 312.1,385.9 312.1,385.2 312.8,385.2 312.8,383.3 314.7,383.3 316.7,383.3 316.7,381.3 317.5,381.3 317.5,379.9 317.5,378.3 318.5,378.3 320.1,378.3 320.1,375.5 320.1,373.5 322.1,373.5 322.1,372.3 323.4,372.3 324.6,372.3 324.6,371.1 324.6,369.8 325.9,369.8 325.9,368.2 326.9,368.2 326.9,366.0 328.3,366.0 329.4,366.0 329.4,364.5 330.4,364.5 330.4,362.9 330.4,361.8 331.5,361.8 333.0,361.8 333.0,360.3 334.7,360.3 334.7,358.7 336.2,358.7 336.2,357.2 338.3,357.2 338.3,355.5 338.3,353.7 340.6,353.7 341.9,353.7 341.9,352.6 341.9,351.4 343.7,351.4 343.7,350.1 345.6,350.1 345.6,348.8 347.7,348.8 347.7,348.0 348.8,348.0 350.8,348.0 350.8,346.8 350.8,346.0 352.1,346.0 352.1,344.6 354.5,344.6 355.3,344.6 355.3,344.0 355.3,341.9 357.9,341.9 360.3,341.9 360.3,340.0 360.3,338.6 361.4,338.6 363.2,338.6 363.2,336.3 363.2,335.3 364.0,335.3 364.0,333.1 365.7,333.1 367.9,333.1 367.9,331.6 368.8,331.6 368.8,331.0 370.9,331.0 370.9,329.7 372.6,329.7 372.6,328.5 372.6,327.0 374.1,327.0 376.3,327.0 376.3,324.8 376.3,323.7 377.4,323.7 377.4,321.6 379.5,321.6 379.5,320.2 381.6,320.2 381.6,319.0 383.4,319.0 383.4,317.8 385.2,317.8 386.4,317.8 386.4,317.0 389.0,317.0 389.0,314.9 391.0,314.9 391.0,313.3 392.1,313.3 392.1,312.4 393.2,312.4 393.2,311.5 393.2,310.1 394.9,310.1 397.1,310.1 397.1,308.2 399.0,308.2 399.0,306.7 399.0,304.0 401.1,304.0 401.1,302.3 402.6,302.3 403.6,302.3 403.6,301.0 404.7,301.0 404.7,299.4 406.0,299.4 406.0,297.5 406.0,295.4 407.4,295.4 408.2,295.4 408.2,294.1 410.6,294.1 410.6,293.1 412.2,293.1 412.2,292.5 413.9,292.5 413.9,291.8 415.5,291.8 415.5,290.8 417.4,290.8 417.4,289.6 419.6,289.6 419.6,288.3 421.4,288.3 421.4,287.6 423.1,287.6 423.1,287.0 425.4,287.0 425.4,286.1 426.0,286.1 426.0,285.4 428.0,285.4 428.0,282.6 428.8,282.6 428.8,281.5 430.9,281.5 430.9,278.9 430.9,277.0 432.4,277.0 433.4,277.0 433.4,275.7 435.4,275.7 435.4,274.5 436.8,274.5 436.8,273.7 439.1,273.7 439.1,272.3 441.4,272.3 441.4,271.6 441.4,270.9 443.3,270.9 443.3,270.5 444.6,270.5 447.2,270.5 447.2,268.2 448.2,268.2 448.2,267.4 449.2,267.4 449.2,266.5 450.0,266.5 450.0,266.0 450.0,264.7 452.2,264.7 454.9,264.7 454.9,263.1 456.3,263.1 456.3,262.0 457.9,262.0 457.9,260.8 457.9,259.6 459.5,259.6 463.0,259.6 463.0,258.8 463.0,258.5 464.1,258.5 465.0,258.5 465.0,256.7 465.0,253.9 466.4,253.9 466.4,251.9 468.9,251.9 468.9,251.0 469.9,251.0 469.9,249.3 472.1,249.3 474.8,249.3 474.8,247.2 474.8,246.0 476.2,246.0 477.8,246.0 477.8,244.7 477.8,243.4 479.4,243.4 479.4,242.3 480.8,242.3 483.6,242.3 483.6,240.1 483.6,238.7 486.5,238.7 488.2,238.7 488.2,237.8 489.4,237.8 489.4,236.5 491.1,236.5 491.1,234.8 491.1,233.2 492.7,233.2 494.4,233.2 494.4,232.0 494.4,230.6 496.4,230.6 496.4,229.2 498.5,229.2 500.6,229.2 500.6,228.3 500.6,227.4 502.9,227.4 504.2,227.4 504.2,226.9 504.2,225.8 507.1,225.8 508.6,225.8 508.6,225.2 509.9,225.2 509.9,224.7 509.9,223.3 511.1,223.3 513.4,223.3 513.4,220.6 513.4,219.6 514.7,219.6 517.8,219.6 517.8,217.1 517.8,216.1 519.1,216.1 520.9,216.1 520.9,214.6 523.1,214.6 523.1,212.9 524.8,212.9 524.8,211.5 524.8,209.6 528.8,209.6 530.3,209.6 530.3,208.8 530.3,208.2 531.5,208.2 531.5,207.4 532.8,207.4 532.8,205.8 535.4,205.8 535.4,204.7 537.2,204.7 538.8,204.7 538.8,203.1 540.5,203.1 540.5,201.4 540.5,200.4 541.5,200.4 541.5,199.0 542.9,199.0 542.9,197.4 545.3,197.4 546.4,197.4 546.4,196.7 548.2,196.7 548.2,195.5 549.8,195.5 549.8,194.4 551.0,194.4 551.0,193.9 551.0,192.8 553.6,192.8 553.6,191.5 556.7,191.5 558.2,191.5 558.2,191.3 560.0,191.3 560.0,191.0 563.6,191.0 563.6,190.4 563.6,189.9 565.0,189.9 565.0,189.4 566.2,189.4 566.2,188.1 569.3,188.1 571.1,188.1 571.1,187.1 571.1,185.7 573.4,185.7 573.4,184.7 575.0,184.7 577.3,184.7 577.3,183.5 577.3,182.8 578.8,182.8 578.8,181.8 580.8,181.8 582.3,181.8 582.3,181.2 582.3,180.0 585.3,180.0 586.5,180.0 586.5,179.5 586.5,178.4 589.2,178.4 592.2,178.4 592.2,177.1 593.4,177.1 593.4,176.6 595.0,176.6 595.0,176.4 597.6,176.4 597.6,176.1 600.2,176.1 600.2,175.8 600.2,174.9 603.2,174.9 603.2,174.5 604.9,174.5 604.9,173.9 606.9,173.9 609.3,173.9 609.3,172.3 611.6,172.3 611.6,170.8 611.6,169.9 612.9,169.9 612.9,169.3 613.8,169.3 613.8,168.3 615.2,168.3 615.2,166.7 617.7,166.7 619.0,166.7 619.0,165.8 620.6,165.8 620.6,164.7 620.6,163.1 623.4,163.1 624.2,163.1 624.2,162.6 625.4,162.6 625.4,161.9 627.5,161.9 627.5,160.7 627.5,159.7 629.9,159.7 629.9,159.0 631.6,159.0 634.4,159.0 634.4,157.8 636.6,157.8 636.6,157.1 638.1,157.1 638.1,156.6 638.1,155.5 641.3,155.5 641.3,154.9 643.1,154.9 645.8,154.9 645.8,154.0 648.2,154.0 648.2,153.2 648.2,152.5 649.2,152.5 649.2,151.0 651.3,151.0 651.3,149.2 653.9,149.2 653.9,148.4 655.4,148.4 655.4,147.8 656.7,147.8 656.7,146.4 659.6,146.4 659.6,144.9 662.2,144.9 662.2,143.9 664.0,143.9 664.0,143.0 665.5,143.0 666.5,143.0 666.5,142.4 668.1,142.4 668.1,141.6 668.1,140.6 670.1,140.6 671.9,140.6 671.9,139.7 673.4,139.7 673.4,138.9 675.6,138.9 675.6,138.0 678.4,138.0 678.4,136.9 680.3,136.9 680.3,136.1 680.3,134.4 683.0,134.4 684.8,134.4 684.8,133.2 684.8,132.7 686.5,132.7 686.5,132.1 688.7,132.1 688.7,131.6 690.7,131.6 693.8,131.6 693.8,130.7 693.8,130.1 696.4,130.1 696.4,129.4 698.9,129.4 701.2,129.4 701.2,128.8 701.2,128.4 702.9,128.4 702.9,128.1 704.3,128.1 706.0,128.1 706.0,127.8 706.0,127.2 708.4,127.2 711.0,127.2 711.0,126.7 711.0,126.2 712.8,126.2 712.8,125.3 715.8,125.3 717.5,125.3 717.5,124.8 719.0,124.8 719.0,124.4 720.9,124.4 720.9,123.9 722.3,123.9 722.3,123.6 724.1,123.6 724.1,123.1 728.2,123.1 728.2,122.1 728.2,121.6 730.1,121.6 732.5,121.6 732.5,121.0 735.1,121.0 735.1,120.3 735.1,119.8 737.3,119.8 737.3,119.4 738.8,119.4 741.1,119.4 741.1,118.8 744.2,118.8 744.2,118.1 744.2,117.5 746.5,117.5 746.5,117.4 747.5,117.4 750.2,117.4 750.2,117.1 751.3,117.1 751.3,117.0 751.3,116.6 754.2,116.6 756.4,116.6 756.4,116.4 757.6,116.4 757.6,116.1 757.6,115.3 760.2,115.3 760.2,114.5 762.9,114.5 762.9,113.7 765.3,113.7 766.8,113.7 766.8,113.3 769.3,113.3 769.3,112.5 769.3,111.6 771.2,111.6 773.1,111.6 773.1,110.7 775.8,110.7 775.8,109.3 777.9,109.3 777.9,108.5 780.1,108.5 780.1,107.6 780.1,106.7 782.2,106.7 784.3,106.7 784.3,105.7 787.0,105.7 787.0,104.3 787.0,103.5 788.7,103.5 788.7,102.5 791.2,102.5 793.3,102.5 793.3,101.6 793.3,100.9 795.1,100.9 795.1,100.3 797.9,100.3 797.9,100.1 799.2,100.1 801.5,100.1 801.5,99.6 804.3,99.6 804.3,98.2 806.8,98.2 806.8,96.9 806.8,96.4 807.9,96.4 809.2,96.4 809.2,95.7 809.2,94.9 812.7,94.9 812.7,94.6 814.1,94.6 814.1,94.3 815.1,94.3 815.1,93.5 818.6,93.5 820.8,93.5 820.8,92.2 823.3,92.2 823.3,91.8 823.3,91.5 825.4,91.5 826.8,91.5 826.8,91.3 829.4,91.3 829.4,90.9 829.4,89.6 831.5,89.6 831.5,89.1 834.0,89.1 834.0,88.7 836.4,88.7 838.0,88.7 838.0,88.2 838.0,87.2 841.4,87.2 841.4,86.7 842.9,86.7 844.2,86.7 844.2,85.9 844.2,84.8 846.1,84.8 846.1,84.7 848.2,84.7 848.2,84.7 850.3,84.7 852.6,84.7 852.6,84.6 852.6,84.5 855.8,84.5 856.9,84.5 856.9,84.4 856.9,84.3 859.0,84.3 862.3,84.3 862.3,84.0 862.3,83.8 865.4,83.8 867.4,83.8 867.4,83.6 867.4,83.5 869.0,83.5 869.0,83.2 871.6,83.2 875.1,83.2 875.1,82.9 875.1,82.7 877.2,82.7 877.2,82.4 880.0,82.4 880.0,82.2 882.4,82.2 884.8,82.2 884.8,82.0 886.9,82.0 886.9,82.0 889.6,82.0 889.6,82.0 893.1,82.0 893.1,81.9 893.1,81.9 894.9,81.9 894.9,81.9 896.5,81.9 896.5,81.3 898.0,81.3 898.0,80.5 899.9,80.5 901.9,80.5 901.9,79.6 904.4,79.6 904.4,79.0 904.4,78.8 905.5,78.8 908.5,78.8 908.5,78.1 910.3,78.1 910.3,77.7 911.6,76.0 911.6,57.0 913.0,56.0" stroke="#3F51B5"/>
</g>
<line x1="116" y1="847" x2="913" y2="56" stroke="#C44E52" stroke-width="2.23" stroke-dasharray="8.24 3.56"/>
<rect x="700.8" y="706.4" width="219.7" height="147.3" rx="4" fill="#EAEAF2" fill-opacity="0.8" stroke="#C9C9CB" stroke-width="1.5"/>
<g class="sans" font-size="16"><line x1="707.6" y1="719.6" x2="739.2" y2="719.6" stroke="#FF5722" stroke-width="4.5" stroke-linecap="round"/><text x="752.6" y="725.4" textLength="144.8" lengthAdjust="spacing">LR (AUC = 0.698)</text><line x1="707.6" y1="743.6" x2="739.2" y2="743.6" stroke="#03A9F4" stroke-width="4.5" stroke-linecap="round"/><text x="752.6" y="749.4" textLength="147.0" lengthAdjust="spacing">AB (AUC = 0.611)</text><line x1="707.6" y1="767.5" x2="739.2" y2="767.5" stroke="#009688" stroke-width="4.5" stroke-linecap="round"/><text x="752.6" y="773.3" textLength="157.7" lengthAdjust="spacing">MLP (AUC = 0.695)</text><line x1="707.6" y1="791.5" x2="739.2" y2="791.5" stroke="#673AB7" stroke-width="4.5" stroke-linecap="round"/><text x="752.6" y="797.2" textLength="159.3" lengthAdjust="spacing">BAG (AUC = 0.824)</text><line x1="707.6" y1="815.4" x2="739.2" y2="815.4" stroke="#B3DA38" stroke-width="4.5" stroke-linecap="round"/><text x="752.6" y="821.2" textLength="162.7" lengthAdjust="spacing">GBM (AUC = 0.526)</text><line x1="707.6" y1="839.4" x2="739.2" y2="839.4" stroke="#3F51B5" stroke-width="4.5" stroke-linecap="round"/><text x="752.6" y="845.1" textLength="159.2" lengthAdjust="spacing">XGB (AUC = 0.729)</text></g>
<g class="serif" font-size="30"><text transform="translate(115.5,889.7) scale(0.9,1)" text-anchor="middle">0.0</text><text transform="translate(274.9,889.7) scale(0.9,1)" text-anchor="middle">0.2</text><text transform="translate(434.3,889.7) scale(0.9,1)" text-anchor="middle">0.4</text><text transform="translate(593.7,889.7) scale(0.9,1)" text-anchor="middle">0.6</text><text transform="translate(753.1,889.7) scale(0.9,1)" text-anchor="middle">0.8</text><text transform="translate(912.5,889.7) scale(0.9,1)" text-anchor="middle">1.0</text><text transform="translate(90.5,857.1) scale(0.9,1)" text-anchor="end">0.0</text><text transform="translate(90.5,698.9) scale(0.9,1)" text-anchor="end">0.2</text><text transform="translate(90.5,540.7) scale(0.9,1)" text-anchor="end">0.4</text><text transform="translate(90.5,382.5) scale(0.9,1)" text-anchor="end">0.6</text><text transform="translate(90.5,224.3) scale(0.9,1)" text-anchor="end">0.8</text><text transform="translate(90.5,66.1) scale(0.9,1)" text-anchor="end">1.0</text></g>
<text class="serif" x="258.5" y="23.5" font-size="31.3" textLength="542" lengthAdjust="spacingAndGlyphs">ROC curve of six machine learning models</text>
<text class="serif" x="432.9" y="950.6" font-size="32" textLength="156" lengthAdjust="spacingAndGlyphs">1-Specificity</text>
<text class="serif" transform="translate(25.2,523.6) rotate(-90)" x="0" y="0" font-size="32.5" textLength="133" lengthAdjust="spacingAndGlyphs">Sensitivity</text>
</svg>
</body></html>
